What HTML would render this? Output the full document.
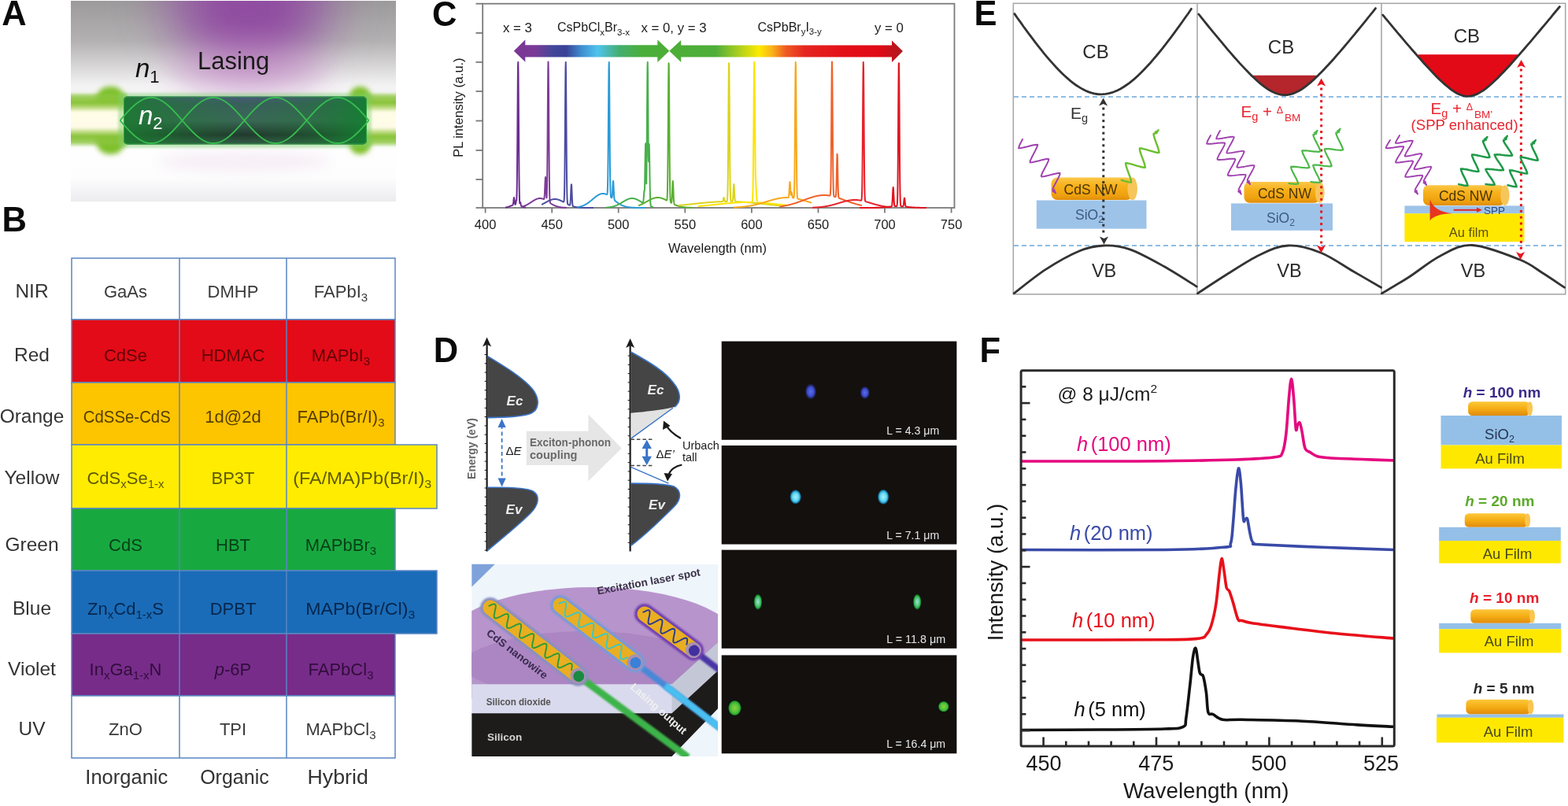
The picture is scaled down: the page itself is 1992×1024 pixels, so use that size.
<!DOCTYPE html><html><head><meta charset="utf-8"><style>html,body{margin:0;padding:0;background:#fff;width:1992px;height:1024px;overflow:hidden}svg{display:block}text{font-family:"Liberation Sans", Arial, sans-serif}</style></head><body>
<svg width="1992" height="1024" viewBox="0 0 1992 1024">
<rect width="1992" height="1024" fill="#fff"/>
<defs>
<clipPath id="clipA"><rect x="90" y="1" width="413" height="255"/></clipPath>
<linearGradient id="aBg" x1="0" y1="0" x2="0" y2="1">
 <stop offset="0" stop-color="#9c9a9b"/><stop offset="0.2" stop-color="#b3b1b2"/><stop offset="0.42" stop-color="#f3f2f3"/><stop offset="0.62" stop-color="#ffffff"/><stop offset="0.88" stop-color="#fdfdfd"/><stop offset="0.95" stop-color="#f3f3f5"/><stop offset="1" stop-color="#ececef"/></linearGradient>
<radialGradient id="aPur" cx="0.5" cy="0" r="0.5" gradientTransform="translate(0,0) scale(1,1)">
 <stop offset="0" stop-color="#8e44a0" stop-opacity="0.95"/><stop offset="0.45" stop-color="#a55cb0" stop-opacity="0.75"/><stop offset="0.8" stop-color="#d9a8d8" stop-opacity="0.3"/><stop offset="1" stop-color="#ffffff" stop-opacity="0"/></radialGradient>
<linearGradient id="aBody" x1="0" y1="0" x2="0" y2="1">
 <stop offset="0" stop-color="#4a5a7e"/><stop offset="0.15" stop-color="#3a5e5c"/><stop offset="0.5" stop-color="#3a6856"/><stop offset="0.8" stop-color="#22392e"/><stop offset="1" stop-color="#35604a"/></linearGradient>
<linearGradient id="aBodyH" x1="0" y1="0" x2="1" y2="0">
 <stop offset="0" stop-color="#1b7a30" stop-opacity="0.9"/><stop offset="0.25" stop-color="#1b7a30" stop-opacity="0.35"/><stop offset="0.5" stop-color="#1b7a30" stop-opacity="0"/><stop offset="0.75" stop-color="#1b7a30" stop-opacity="0.3"/><stop offset="1" stop-color="#128030" stop-opacity="0.9"/></linearGradient>
<linearGradient id="aBeam" x1="0" y1="0" x2="0" y2="1">
 <stop offset="0" stop-color="#8cc63f" stop-opacity="0"/><stop offset="0.07" stop-color="#8cc63f" stop-opacity="0.8"/><stop offset="0.2" stop-color="#86c233"/><stop offset="0.3" stop-color="#c8e090"/><stop offset="0.36" stop-color="#fffde6"/><stop offset="0.64" stop-color="#fffbe8"/><stop offset="0.71" stop-color="#c8e090"/><stop offset="0.8" stop-color="#86c233"/><stop offset="0.92" stop-color="#8cc63f" stop-opacity="0.8"/><stop offset="1" stop-color="#8cc63f" stop-opacity="0"/></linearGradient>
<filter id="blur3" x="-50%" y="-50%" width="200%" height="200%"><feGaussianBlur stdDeviation="3"/></filter>
<filter id="blur2" x="-50%" y="-50%" width="200%" height="200%"><feGaussianBlur stdDeviation="1.6"/></filter>
<filter id="blur30" x="-100%" y="-100%" width="300%" height="300%"><feGaussianBlur stdDeviation="28"/></filter><filter id="blur20" x="-100%" y="-100%" width="300%" height="300%"><feGaussianBlur stdDeviation="18"/></filter>
<filter id="blur4" x="-50%" y="-50%" width="200%" height="200%"><feGaussianBlur stdDeviation="3.5"/></filter>
<filter id="blur8" x="-50%" y="-50%" width="200%" height="200%"><feGaussianBlur stdDeviation="8"/></filter>
</defs>
<g clip-path="url(#clipA)">
<rect x="90" y="1" width="413" height="255" fill="url(#aBg)"/>
<ellipse cx="316" cy="0" rx="118" ry="80" fill="#9a58aa" opacity="0.55" filter="url(#blur30)"/>
<ellipse cx="318" cy="10" rx="75" ry="70" fill="#8e44a0" opacity="0.85" filter="url(#blur30)"/>
<ellipse cx="316" cy="88" rx="100" ry="32" fill="#cc98cc" opacity="0.55" filter="url(#blur20)"/>
<ellipse cx="310" cy="205" rx="110" ry="14" fill="#f2e6f2" opacity="0.6" filter="url(#blur8)"/>
<rect x="122" y="110" width="37" height="86" rx="17" fill="#7ec02a" filter="url(#blur3)"/>
<rect x="444" y="110" width="27" height="86" rx="13" fill="#7ec02a" filter="url(#blur3)"/>
<rect x="86" y="117" width="75" height="70" fill="url(#aBeam)" filter="url(#blur2)"/>
<rect x="462" y="117" width="45" height="70" fill="url(#aBeam)" filter="url(#blur2)"/>
<rect x="150" y="118" width="322" height="70" rx="6" fill="#7dd070" opacity="0.45" filter="url(#blur2)"/>
<rect x="157" y="122.5" width="309" height="61" rx="5" fill="url(#aBody)"/>
<rect x="157" y="122.5" width="309" height="61" rx="5" fill="url(#aBodyH)"/><rect x="157.5" y="123" width="308" height="60" rx="5" fill="none" stroke="#3cb44a" stroke-width="1" opacity="0.7"/>
<polyline points="152.5,153.0 153.3,152.1 154.1,151.2 154.9,150.3 155.7,149.4 156.4,148.5 157.2,147.6 158.0,146.7 158.8,145.8 159.6,144.9 160.4,144.0 161.2,143.2 162.0,142.3 162.8,141.5 163.6,140.7 164.3,139.8 165.1,139.0 165.9,138.2 166.7,137.5 167.5,136.7 168.3,136.0 169.1,135.2 169.9,134.5 170.7,133.8 171.5,133.1 172.2,132.5 173.0,131.9 173.8,131.2 174.6,130.7 175.4,130.1 176.2,129.5 177.0,129.0 177.8,128.5 178.6,128.0 179.4,127.6 180.2,127.2 180.9,126.8 181.7,126.4 182.5,126.0 183.3,125.7 184.1,125.4 184.9,125.2 185.7,124.9 186.5,124.7 187.3,124.5 188.1,124.4 188.8,124.2 189.6,124.1 190.4,124.1 191.2,124.0 192.0,124.0 192.8,124.0 193.6,124.1 194.4,124.1 195.2,124.2 195.9,124.4 196.7,124.5 197.5,124.7 198.3,124.9 199.1,125.2 199.9,125.4 200.7,125.7 201.5,126.0 202.3,126.4 203.1,126.8 203.8,127.2 204.6,127.6 205.4,128.0 206.2,128.5 207.0,129.0 207.8,129.5 208.6,130.1 209.4,130.7 210.2,131.2 211.0,131.9 211.8,132.5 212.5,133.1 213.3,133.8 214.1,134.5 214.9,135.2 215.7,136.0 216.5,136.7 217.3,137.5 218.1,138.2 218.9,139.0 219.7,139.8 220.4,140.7 221.2,141.5 222.0,142.3 222.8,143.2 223.6,144.0 224.4,144.9 225.2,145.8 226.0,146.7 226.8,147.6 227.6,148.5 228.3,149.4 229.1,150.3 229.9,151.2 230.7,152.1 231.5,153.0 232.3,153.9 233.1,154.8 233.9,155.7 234.7,156.6 235.4,157.5 236.2,158.4 237.0,159.3 237.8,160.2 238.6,161.1 239.4,162.0 240.2,162.8 241.0,163.7 241.8,164.5 242.6,165.3 243.4,166.2 244.1,167.0 244.9,167.8 245.7,168.5 246.5,169.3 247.3,170.0 248.1,170.8 248.9,171.5 249.7,172.2 250.5,172.9 251.2,173.5 252.0,174.1 252.8,174.8 253.6,175.3 254.4,175.9 255.2,176.5 256.0,177.0 256.8,177.5 257.6,178.0 258.4,178.4 259.1,178.8 259.9,179.2 260.7,179.6 261.5,180.0 262.3,180.3 263.1,180.6 263.9,180.8 264.7,181.1 265.5,181.3 266.3,181.5 267.1,181.6 267.8,181.8 268.6,181.9 269.4,181.9 270.2,182.0 271.0,182.0 271.8,182.0 272.6,181.9 273.4,181.9 274.2,181.8 274.9,181.6 275.7,181.5 276.5,181.3 277.3,181.1 278.1,180.8 278.9,180.6 279.7,180.3 280.5,180.0 281.3,179.6 282.1,179.2 282.9,178.8 283.6,178.4 284.4,178.0 285.2,177.5 286.0,177.0 286.8,176.5 287.6,175.9 288.4,175.3 289.2,174.8 290.0,174.1 290.8,173.5 291.5,172.9 292.3,172.2 293.1,171.5 293.9,170.8 294.7,170.0 295.5,169.3 296.3,168.5 297.1,167.8 297.9,167.0 298.6,166.2 299.4,165.3 300.2,164.5 301.0,163.7 301.8,162.8 302.6,162.0 303.4,161.1 304.2,160.2 305.0,159.3 305.8,158.4 306.6,157.5 307.3,156.6 308.1,155.7 308.9,154.8 309.7,153.9 310.5,153.0 311.3,152.1 312.1,151.2 312.9,150.3 313.7,149.4 314.5,148.5 315.2,147.6 316.0,146.7 316.8,145.8 317.6,144.9 318.4,144.0 319.2,143.2 320.0,142.3 320.8,141.5 321.6,140.7 322.4,139.8 323.1,139.0 323.9,138.2 324.7,137.5 325.5,136.7 326.3,136.0 327.1,135.2 327.9,134.5 328.7,133.8 329.5,133.1 330.2,132.5 331.0,131.9 331.8,131.2 332.6,130.7 333.4,130.1 334.2,129.5 335.0,129.0 335.8,128.5 336.6,128.0 337.4,127.6 338.1,127.2 338.9,126.8 339.7,126.4 340.5,126.0 341.3,125.7 342.1,125.4 342.9,125.2 343.7,124.9 344.5,124.7 345.3,124.5 346.1,124.4 346.8,124.2 347.6,124.1 348.4,124.1 349.2,124.0 350.0,124.0 350.8,124.0 351.6,124.1 352.4,124.1 353.2,124.2 354.0,124.4 354.7,124.5 355.5,124.7 356.3,124.9 357.1,125.2 357.9,125.4 358.7,125.7 359.5,126.0 360.3,126.4 361.1,126.8 361.9,127.2 362.6,127.6 363.4,128.0 364.2,128.5 365.0,129.0 365.8,129.5 366.6,130.1 367.4,130.7 368.2,131.2 369.0,131.9 369.8,132.5 370.5,133.1 371.3,133.8 372.1,134.5 372.9,135.2 373.7,136.0 374.5,136.7 375.3,137.5 376.1,138.2 376.9,139.0 377.6,139.8 378.4,140.7 379.2,141.5 380.0,142.3 380.8,143.2 381.6,144.0 382.4,144.9 383.2,145.8 384.0,146.7 384.8,147.6 385.6,148.5 386.3,149.4 387.1,150.3 387.9,151.2 388.7,152.1 389.5,153.0 390.3,153.9 391.1,154.8 391.9,155.7 392.7,156.6 393.5,157.5 394.2,158.4 395.0,159.3 395.8,160.2 396.6,161.1 397.4,162.0 398.2,162.8 399.0,163.7 399.8,164.5 400.6,165.3 401.4,166.2 402.1,167.0 402.9,167.8 403.7,168.5 404.5,169.3 405.3,170.0 406.1,170.8 406.9,171.5 407.7,172.2 408.5,172.9 409.2,173.5 410.0,174.1 410.8,174.8 411.6,175.3 412.4,175.9 413.2,176.5 414.0,177.0 414.8,177.5 415.6,178.0 416.4,178.4 417.2,178.8 417.9,179.2 418.7,179.6 419.5,180.0 420.3,180.3 421.1,180.6 421.9,180.8 422.7,181.1 423.5,181.3 424.3,181.5 425.1,181.6 425.8,181.8 426.6,181.9 427.4,181.9 428.2,182.0 429.0,182.0 429.8,182.0 430.6,181.9 431.4,181.9 432.2,181.8 432.9,181.6 433.7,181.5 434.5,181.3 435.3,181.1 436.1,180.8 436.9,180.6 437.7,180.3 438.5,180.0 439.3,179.6 440.1,179.2 440.9,178.8 441.6,178.4 442.4,178.0 443.2,177.5 444.0,177.0 444.8,176.5 445.6,175.9 446.4,175.3 447.2,174.8 448.0,174.1 448.8,173.5 449.5,172.9 450.3,172.2 451.1,171.5 451.9,170.8 452.7,170.0 453.5,169.3 454.3,168.5 455.1,167.8 455.9,167.0 456.7,166.2 457.4,165.3 458.2,164.5 459.0,163.7 459.8,162.8 460.6,162.0 461.4,161.1 462.2,160.2 463.0,159.3 463.8,158.4 464.6,157.5 465.3,156.6 466.1,155.7 466.9,154.8 467.7,153.9 468.5,153.0" fill="none" stroke="#36bd4e" stroke-width="1.8"/><polyline points="152.5,153.0 153.3,153.9 154.1,154.8 154.9,155.7 155.7,156.6 156.4,157.5 157.2,158.4 158.0,159.3 158.8,160.2 159.6,161.1 160.4,162.0 161.2,162.8 162.0,163.7 162.8,164.5 163.6,165.3 164.3,166.2 165.1,167.0 165.9,167.8 166.7,168.5 167.5,169.3 168.3,170.0 169.1,170.8 169.9,171.5 170.7,172.2 171.5,172.9 172.2,173.5 173.0,174.1 173.8,174.8 174.6,175.3 175.4,175.9 176.2,176.5 177.0,177.0 177.8,177.5 178.6,178.0 179.4,178.4 180.2,178.8 180.9,179.2 181.7,179.6 182.5,180.0 183.3,180.3 184.1,180.6 184.9,180.8 185.7,181.1 186.5,181.3 187.3,181.5 188.1,181.6 188.8,181.8 189.6,181.9 190.4,181.9 191.2,182.0 192.0,182.0 192.8,182.0 193.6,181.9 194.4,181.9 195.2,181.8 195.9,181.6 196.7,181.5 197.5,181.3 198.3,181.1 199.1,180.8 199.9,180.6 200.7,180.3 201.5,180.0 202.3,179.6 203.1,179.2 203.8,178.8 204.6,178.4 205.4,178.0 206.2,177.5 207.0,177.0 207.8,176.5 208.6,175.9 209.4,175.3 210.2,174.8 211.0,174.1 211.8,173.5 212.5,172.9 213.3,172.2 214.1,171.5 214.9,170.8 215.7,170.0 216.5,169.3 217.3,168.5 218.1,167.8 218.9,167.0 219.7,166.2 220.4,165.3 221.2,164.5 222.0,163.7 222.8,162.8 223.6,162.0 224.4,161.1 225.2,160.2 226.0,159.3 226.8,158.4 227.6,157.5 228.3,156.6 229.1,155.7 229.9,154.8 230.7,153.9 231.5,153.0 232.3,152.1 233.1,151.2 233.9,150.3 234.7,149.4 235.4,148.5 236.2,147.6 237.0,146.7 237.8,145.8 238.6,144.9 239.4,144.0 240.2,143.2 241.0,142.3 241.8,141.5 242.6,140.7 243.4,139.8 244.1,139.0 244.9,138.2 245.7,137.5 246.5,136.7 247.3,136.0 248.1,135.2 248.9,134.5 249.7,133.8 250.5,133.1 251.2,132.5 252.0,131.9 252.8,131.2 253.6,130.7 254.4,130.1 255.2,129.5 256.0,129.0 256.8,128.5 257.6,128.0 258.4,127.6 259.1,127.2 259.9,126.8 260.7,126.4 261.5,126.0 262.3,125.7 263.1,125.4 263.9,125.2 264.7,124.9 265.5,124.7 266.3,124.5 267.1,124.4 267.8,124.2 268.6,124.1 269.4,124.1 270.2,124.0 271.0,124.0 271.8,124.0 272.6,124.1 273.4,124.1 274.2,124.2 274.9,124.4 275.7,124.5 276.5,124.7 277.3,124.9 278.1,125.2 278.9,125.4 279.7,125.7 280.5,126.0 281.3,126.4 282.1,126.8 282.9,127.2 283.6,127.6 284.4,128.0 285.2,128.5 286.0,129.0 286.8,129.5 287.6,130.1 288.4,130.7 289.2,131.2 290.0,131.9 290.8,132.5 291.5,133.1 292.3,133.8 293.1,134.5 293.9,135.2 294.7,136.0 295.5,136.7 296.3,137.5 297.1,138.2 297.9,139.0 298.6,139.8 299.4,140.7 300.2,141.5 301.0,142.3 301.8,143.2 302.6,144.0 303.4,144.9 304.2,145.8 305.0,146.7 305.8,147.6 306.6,148.5 307.3,149.4 308.1,150.3 308.9,151.2 309.7,152.1 310.5,153.0 311.3,153.9 312.1,154.8 312.9,155.7 313.7,156.6 314.5,157.5 315.2,158.4 316.0,159.3 316.8,160.2 317.6,161.1 318.4,162.0 319.2,162.8 320.0,163.7 320.8,164.5 321.6,165.3 322.4,166.2 323.1,167.0 323.9,167.8 324.7,168.5 325.5,169.3 326.3,170.0 327.1,170.8 327.9,171.5 328.7,172.2 329.5,172.9 330.2,173.5 331.0,174.1 331.8,174.8 332.6,175.3 333.4,175.9 334.2,176.5 335.0,177.0 335.8,177.5 336.6,178.0 337.4,178.4 338.1,178.8 338.9,179.2 339.7,179.6 340.5,180.0 341.3,180.3 342.1,180.6 342.9,180.8 343.7,181.1 344.5,181.3 345.3,181.5 346.1,181.6 346.8,181.8 347.6,181.9 348.4,181.9 349.2,182.0 350.0,182.0 350.8,182.0 351.6,181.9 352.4,181.9 353.2,181.8 354.0,181.6 354.7,181.5 355.5,181.3 356.3,181.1 357.1,180.8 357.9,180.6 358.7,180.3 359.5,180.0 360.3,179.6 361.1,179.2 361.9,178.8 362.6,178.4 363.4,178.0 364.2,177.5 365.0,177.0 365.8,176.5 366.6,175.9 367.4,175.3 368.2,174.8 369.0,174.1 369.8,173.5 370.5,172.9 371.3,172.2 372.1,171.5 372.9,170.8 373.7,170.0 374.5,169.3 375.3,168.5 376.1,167.8 376.9,167.0 377.6,166.2 378.4,165.3 379.2,164.5 380.0,163.7 380.8,162.8 381.6,162.0 382.4,161.1 383.2,160.2 384.0,159.3 384.8,158.4 385.6,157.5 386.3,156.6 387.1,155.7 387.9,154.8 388.7,153.9 389.5,153.0 390.3,152.1 391.1,151.2 391.9,150.3 392.7,149.4 393.5,148.5 394.2,147.6 395.0,146.7 395.8,145.8 396.6,144.9 397.4,144.0 398.2,143.2 399.0,142.3 399.8,141.5 400.6,140.7 401.4,139.8 402.1,139.0 402.9,138.2 403.7,137.5 404.5,136.7 405.3,136.0 406.1,135.2 406.9,134.5 407.7,133.8 408.5,133.1 409.2,132.5 410.0,131.9 410.8,131.2 411.6,130.7 412.4,130.1 413.2,129.5 414.0,129.0 414.8,128.5 415.6,128.0 416.4,127.6 417.2,127.2 417.9,126.8 418.7,126.4 419.5,126.0 420.3,125.7 421.1,125.4 421.9,125.2 422.7,124.9 423.5,124.7 424.3,124.5 425.1,124.4 425.8,124.2 426.6,124.1 427.4,124.1 428.2,124.0 429.0,124.0 429.8,124.0 430.6,124.1 431.4,124.1 432.2,124.2 432.9,124.4 433.7,124.5 434.5,124.7 435.3,124.9 436.1,125.2 436.9,125.4 437.7,125.7 438.5,126.0 439.3,126.4 440.1,126.8 440.9,127.2 441.6,127.6 442.4,128.0 443.2,128.5 444.0,129.0 444.8,129.5 445.6,130.1 446.4,130.7 447.2,131.2 448.0,131.9 448.8,132.5 449.5,133.1 450.3,133.8 451.1,134.5 451.9,135.2 452.7,136.0 453.5,136.7 454.3,137.5 455.1,138.2 455.9,139.0 456.7,139.8 457.4,140.7 458.2,141.5 459.0,142.3 459.8,143.2 460.6,144.0 461.4,144.9 462.2,145.8 463.0,146.7 463.8,147.6 464.6,148.5 465.3,149.4 466.1,150.3 466.9,151.2 467.7,152.1 468.5,153.0" fill="none" stroke="#36bd4e" stroke-width="1.8"/></g><text x="251" y="88" font-size="31" fill="#1a1a1a">Lasing</text><text x="172" y="98" font-size="33" fill="#111" font-style="italic">n<tspan font-size="22" dy="7" font-style="normal">1</tspan></text><text x="176" y="158" font-size="33" fill="#fff" font-style="italic">n<tspan font-size="22" dy="6" font-style="normal">2</tspan></text>
<rect x="91" y="328" width="411" height="78" fill="#ffffff" stroke="#5a86c2" stroke-width="1.5"/><line x1="228" y1="328" x2="228" y2="406" stroke="#5a86c2" stroke-width="1.5"/><line x1="364" y1="328" x2="364" y2="406" stroke="#5a86c2" stroke-width="1.5"/><text x="40.5" y="378" font-size="24.5" fill="#333" text-anchor="middle" font-weight="normal" font-style="normal" >NIR</text><text x="159.5" y="378" font-size="22" fill="#3a3a3a" text-anchor="middle">GaAs</text><text x="296.0" y="378" font-size="22" fill="#3a3a3a" text-anchor="middle">DMHP</text><text x="433.0" y="378" font-size="22" fill="#3a3a3a" text-anchor="middle">FAPbI<tspan font-size="15" dy="5">3</tspan></text><rect x="91" y="406" width="411" height="80" fill="#e30b17" stroke="#5a86c2" stroke-width="1.5"/><line x1="228" y1="406" x2="228" y2="486" stroke="#5a86c2" stroke-width="1.5"/><line x1="364" y1="406" x2="364" y2="486" stroke="#5a86c2" stroke-width="1.5"/><text x="40.5" y="459" font-size="24.5" fill="#333" text-anchor="middle" font-weight="normal" font-style="normal" >Red</text><text x="159.5" y="459" font-size="22" fill="rgba(40,0,0,0.7)" text-anchor="middle">CdSe</text><text x="296.0" y="459" font-size="22" fill="rgba(40,0,0,0.7)" text-anchor="middle">HDMAC</text><text x="433.0" y="459" font-size="22" fill="rgba(40,0,0,0.7)" text-anchor="middle">MAPbI<tspan font-size="15" dy="5">3</tspan></text><rect x="91" y="486" width="411" height="79" fill="#fdc400" stroke="#5a86c2" stroke-width="1.5"/><line x1="228" y1="486" x2="228" y2="565" stroke="#5a86c2" stroke-width="1.5"/><line x1="364" y1="486" x2="364" y2="565" stroke="#5a86c2" stroke-width="1.5"/><text x="40.5" y="536.5" font-size="24.5" fill="#333" text-anchor="middle" font-weight="normal" font-style="normal" >Orange</text><text x="105.8" y="536.5" font-size="22" fill="rgba(40,25,0,0.8)" textLength="111" lengthAdjust="spacingAndGlyphs">CdSSe-CdS</text><text x="296.0" y="536.5" font-size="22" fill="rgba(40,25,0,0.8)" text-anchor="middle">1d@2d</text><text x="433.0" y="536.5" font-size="22" fill="rgba(40,25,0,0.8)" text-anchor="middle">FAPb(Br/I)<tspan font-size="15" dy="5">3</tspan></text><rect x="91" y="565" width="464" height="81" fill="#ffec00" stroke="#5a86c2" stroke-width="1.5"/><line x1="228" y1="565" x2="228" y2="646" stroke="#5a86c2" stroke-width="1.5"/><line x1="364" y1="565" x2="364" y2="646" stroke="#5a86c2" stroke-width="1.5"/><text x="40.5" y="615" font-size="24.5" fill="#333" text-anchor="middle" font-weight="normal" font-style="normal" >Yellow</text><text x="159.5" y="615" font-size="22" fill="rgba(40,40,0,0.75)" text-anchor="middle">CdS<tspan font-size="15" dy="5">x</tspan><tspan dy="-5">Se</tspan><tspan font-size="15" dy="5">1-x</tspan></text><text x="296.0" y="615" font-size="22" fill="rgba(40,40,0,0.75)" text-anchor="middle">BP3T</text><text x="372.2" y="615" font-size="22" fill="rgba(40,40,0,0.75)" textLength="176" lengthAdjust="spacingAndGlyphs">(FA/MA)Pb(Br/I)<tspan font-size="15" dy="5">3</tspan></text><rect x="91" y="646" width="411" height="79" fill="#18a840" stroke="#5a86c2" stroke-width="1.5"/><line x1="228" y1="646" x2="228" y2="725" stroke="#5a86c2" stroke-width="1.5"/><line x1="364" y1="646" x2="364" y2="725" stroke="#5a86c2" stroke-width="1.5"/><text x="40.5" y="699.5" font-size="24.5" fill="#333" text-anchor="middle" font-weight="normal" font-style="normal" >Green</text><text x="159.5" y="699.5" font-size="22" fill="rgba(0,30,10,0.75)" text-anchor="middle">CdS</text><text x="296.0" y="699.5" font-size="22" fill="rgba(0,30,10,0.75)" text-anchor="middle">HBT</text><text x="433.0" y="699.5" font-size="22" fill="rgba(0,30,10,0.75)" text-anchor="middle">MAPbBr<tspan font-size="15" dy="5">3</tspan></text><rect x="91" y="725" width="464" height="80" fill="#1a6cb8" stroke="#5a86c2" stroke-width="1.5"/><line x1="228" y1="725" x2="228" y2="805" stroke="#5a86c2" stroke-width="1.5"/><line x1="364" y1="725" x2="364" y2="805" stroke="#5a86c2" stroke-width="1.5"/><text x="40.5" y="780.5" font-size="24.5" fill="#333" text-anchor="middle" font-weight="normal" font-style="normal" >Blue</text><text x="159.5" y="780.5" font-size="22" fill="rgba(0,15,40,0.75)" text-anchor="middle">Zn<tspan font-size="15" dy="5">x</tspan><tspan dy="-5">Cd</tspan><tspan font-size="15" dy="5">1-x</tspan><tspan dy="-5">S</tspan></text><text x="296.0" y="780.5" font-size="22" fill="rgba(0,15,40,0.75)" text-anchor="middle">DPBT</text><text x="388.3" y="780.5" font-size="22" fill="rgba(0,15,40,0.75)" textLength="139" lengthAdjust="spacingAndGlyphs">MAPb(Br/Cl)<tspan font-size="15" dy="5">3</tspan></text><rect x="91" y="805" width="411" height="79" fill="#772c8a" stroke="#5a86c2" stroke-width="1.5"/><line x1="228" y1="805" x2="228" y2="884" stroke="#5a86c2" stroke-width="1.5"/><line x1="364" y1="805" x2="364" y2="884" stroke="#5a86c2" stroke-width="1.5"/><text x="40.5" y="858.3" font-size="24.5" fill="#333" text-anchor="middle" font-weight="normal" font-style="normal" >Violet</text><text x="159.5" y="858.3" font-size="22" fill="rgba(20,0,25,0.7)" text-anchor="middle">In<tspan font-size="15" dy="5">x</tspan><tspan dy="-5">Ga</tspan><tspan font-size="15" dy="5">1-x</tspan><tspan dy="-5">N</tspan></text><text x="296.0" y="858.3" font-size="22" fill="rgba(20,0,25,0.7)" text-anchor="middle"><tspan font-style="italic">p</tspan>-6P</text><text x="433.0" y="858.3" font-size="22" fill="rgba(20,0,25,0.7)" text-anchor="middle">FAPbCl<tspan font-size="15" dy="5">3</tspan></text><rect x="91" y="884" width="411" height="79" fill="#ffffff" stroke="#5a86c2" stroke-width="1.5"/><line x1="228" y1="884" x2="228" y2="963" stroke="#5a86c2" stroke-width="1.5"/><line x1="364" y1="884" x2="364" y2="963" stroke="#5a86c2" stroke-width="1.5"/><text x="40.5" y="933.5" font-size="24.5" fill="#333" text-anchor="middle" font-weight="normal" font-style="normal" >UV</text><text x="159.5" y="933.5" font-size="22" fill="#3a3a3a" text-anchor="middle">ZnO</text><text x="296.0" y="933.5" font-size="22" fill="#3a3a3a" text-anchor="middle">TPI</text><text x="433.0" y="933.5" font-size="22" fill="#3a3a3a" text-anchor="middle">MAPbCl<tspan font-size="15" dy="5">3</tspan></text><text x="108.3" y="996" font-size="25" fill="#333" textLength="105" lengthAdjust="spacingAndGlyphs">Inorganic</text><text x="254.2" y="996" font-size="25" fill="#333" textLength="87.5" lengthAdjust="spacingAndGlyphs">Organic</text><text x="390.4" y="996" font-size="25" fill="#333" textLength="77.5" lengthAdjust="spacingAndGlyphs">Hybrid</text>
<rect x="613.2" y="4.7" width="599.3" height="259.3" fill="none" stroke="#7a7a7a" stroke-width="1.8"/><line x1="604.5" y1="4.7" x2="613.2" y2="4.7" stroke="#7a7a7a" stroke-width="1.8"/><line x1="604.5" y1="41.9" x2="613.2" y2="41.9" stroke="#7a7a7a" stroke-width="1.8"/><line x1="604.5" y1="79" x2="613.2" y2="79" stroke="#7a7a7a" stroke-width="1.8"/><line x1="604.5" y1="116" x2="613.2" y2="116" stroke="#7a7a7a" stroke-width="1.8"/><line x1="604.5" y1="153.5" x2="613.2" y2="153.5" stroke="#7a7a7a" stroke-width="1.8"/><line x1="604.5" y1="191" x2="613.2" y2="191" stroke="#7a7a7a" stroke-width="1.8"/><line x1="604.5" y1="228" x2="613.2" y2="228" stroke="#7a7a7a" stroke-width="1.8"/><line x1="604.5" y1="264" x2="613.2" y2="264" stroke="#7a7a7a" stroke-width="1.8"/><line x1="616.6" y1="264" x2="616.6" y2="270.5" stroke="#7a7a7a" stroke-width="1.8"/><text x="616.6" y="291.3" font-size="16.5" fill="#1a1a1a" text-anchor="middle">400</text><line x1="701.2" y1="264" x2="701.2" y2="270.5" stroke="#7a7a7a" stroke-width="1.8"/><text x="701.2" y="291.3" font-size="16.5" fill="#1a1a1a" text-anchor="middle">450</text><line x1="785.7" y1="264" x2="785.7" y2="270.5" stroke="#7a7a7a" stroke-width="1.8"/><text x="785.7" y="291.3" font-size="16.5" fill="#1a1a1a" text-anchor="middle">500</text><line x1="870.3" y1="264" x2="870.3" y2="270.5" stroke="#7a7a7a" stroke-width="1.8"/><text x="870.3" y="291.3" font-size="16.5" fill="#1a1a1a" text-anchor="middle">550</text><line x1="954.9" y1="264" x2="954.9" y2="270.5" stroke="#7a7a7a" stroke-width="1.8"/><text x="954.9" y="291.3" font-size="16.5" fill="#1a1a1a" text-anchor="middle">600</text><line x1="1039.5" y1="264" x2="1039.5" y2="270.5" stroke="#7a7a7a" stroke-width="1.8"/><text x="1039.5" y="291.3" font-size="16.5" fill="#1a1a1a" text-anchor="middle">650</text><line x1="1124.0" y1="264" x2="1124.0" y2="270.5" stroke="#7a7a7a" stroke-width="1.8"/><text x="1124.0" y="291.3" font-size="16.5" fill="#1a1a1a" text-anchor="middle">700</text><line x1="1208.6" y1="264" x2="1208.6" y2="270.5" stroke="#7a7a7a" stroke-width="1.8"/><text x="1208.6" y="291.3" font-size="16.5" fill="#1a1a1a" text-anchor="middle">750</text><text x="911.5" y="320.5" font-size="16.5" fill="#1a1a1a" text-anchor="middle">Wavelength (nm)</text><text transform="translate(587.5,136.6) rotate(-90)" x="0" y="0" font-size="16.3" fill="#1a1a1a" text-anchor="middle">PL intensity (a.u.)</text><defs>
<linearGradient id="cArrL" gradientUnits="userSpaceOnUse" x1="652" y1="0" x2="850" y2="0">
<stop offset="0" stop-color="#7b3695"/><stop offset="0.14" stop-color="#7a3a96"/><stop offset="0.26" stop-color="#40479a"/><stop offset="0.34" stop-color="#3a4296"/><stop offset="0.44" stop-color="#3f8fd0"/><stop offset="0.54" stop-color="#4fc3ee"/><stop offset="0.68" stop-color="#44ae70"/><stop offset="0.82" stop-color="#4aae3c"/><stop offset="1" stop-color="#4cae36"/></linearGradient>
<linearGradient id="cArrR" gradientUnits="userSpaceOnUse" x1="850" y1="0" x2="1147" y2="0">
<stop offset="0" stop-color="#4cae36"/><stop offset="0.2" stop-color="#4fae3a"/><stop offset="0.31" stop-color="#b7d21a"/><stop offset="0.385" stop-color="#fdea00"/><stop offset="0.44" stop-color="#f9b21a"/><stop offset="0.5" stop-color="#ef5a22"/><stop offset="0.58" stop-color="#e52620"/><stop offset="0.75" stop-color="#e30f17"/><stop offset="0.9" stop-color="#e00a17"/><stop offset="1" stop-color="#a81c1f"/></linearGradient>
</defs><path d="M652.8,64.7 L667.3,50.5 L667.3,57.2 L835.3,57.2 L835.3,50.5 L850.3,64.8 L835.3,79 L835.3,72.6 L667.3,72.6 L667.3,78.8 Z" fill="url(#cArrL)"/><path d="M850.3,64.8 L865.2,51 L865.2,57.4 L1133,57.4 L1133,51.6 L1147,64.9 L1133,79 L1133,72.6 L865.2,72.6 L865.2,79 Z" fill="url(#cArrR)"/><text x="639" y="40.5" font-size="16.8" fill="#1a1a1a">x = 3</text><text x="708" y="40" font-size="16" fill="#1a1a1a">CsPbCl<tspan font-size="11.5" dy="4.6">x</tspan><tspan dy="-4.6">Br</tspan><tspan font-size="11.5" dy="4.6">3-x</tspan></text><text x="814.5" y="40.5" font-size="16.8" fill="#1a1a1a">x = 0, y = 3</text><text x="962.5" y="39.5" font-size="16" fill="#1a1a1a">CsPbBr<tspan font-size="11.5" dy="4.6">y</tspan><tspan dy="-4.6">I</tspan><tspan font-size="11.5" dy="4.6">3-y</tspan></text><text x="1111" y="40.5" font-size="16.8" fill="#1a1a1a">y = 0</text><polyline points="642.00,263.62 642.25,263.58 642.50,263.54 642.75,263.50 643.00,263.46 643.25,263.41 643.50,263.36 643.75,263.31 644.00,263.25 644.25,263.20 644.50,263.13 644.75,263.07 645.00,263.00 645.25,262.93 645.50,262.86 645.75,262.78 646.00,262.70 646.25,262.62 646.50,262.53 646.75,262.45 647.00,262.36 647.25,262.26 647.50,262.17 647.75,262.07 648.00,261.97 648.25,261.88 648.50,261.78 648.75,261.67 649.00,261.57 649.25,261.47 649.50,261.37 649.75,261.27 650.00,261.17 650.25,261.08 650.50,260.98 650.75,260.88 651.00,260.78 651.25,260.64 651.50,260.37 651.75,259.78 652.00,258.60 652.25,256.64 652.50,254.15 652.75,251.93 653.00,251.00 653.25,251.82 653.50,253.94 653.75,256.33 654.00,258.18 654.25,259.27 654.50,259.76 654.75,259.80 655.00,259.31 655.25,258.22 655.50,256.49 655.75,254.74 656.00,254.00 656.25,254.80 656.50,248.91 656.75,236.21 657.00,214.83 657.25,184.05 657.50,146.86 657.75,110.66 658.00,85.33 658.25,78.95 658.50,93.73 658.75,124.74 659.00,162.61 659.25,198.03 659.50,225.32 659.75,243.14 660.00,253.18 660.25,258.11 660.50,258.30 660.75,257.33 661.00,257.00 661.25,257.53 661.50,258.71 661.75,260.01 662.00,261.05 662.25,261.69 662.50,262.04 662.75,262.23 663.00,262.35 663.25,262.44 663.50,262.53 663.75,262.62 664.00,262.70 664.25,262.78 664.50,262.86 664.75,262.93 665.00,263.00 665.25,263.07 665.50,263.13 665.75,263.20 666.00,263.25 666.25,263.31 666.50,263.36 666.75,263.41 667.00,263.46 667.25,263.50 667.50,263.54 667.75,263.58 668.00,263.62" fill="none" stroke="#6b2d90" stroke-width="2" stroke-linejoin="round"/><polyline points="662.00,262.89 662.25,262.83 662.50,262.78 662.75,262.71 663.00,262.65 663.25,262.59 663.50,262.52 663.75,262.45 664.00,262.38 664.25,262.30 664.50,262.22 664.75,262.14 665.00,262.06 665.25,261.97 665.50,261.89 665.75,261.80 666.00,261.70 666.25,261.61 666.50,261.51 666.75,261.40 667.00,261.30 667.25,261.19 667.50,261.08 667.75,260.97 668.00,260.85 668.25,260.74 668.50,260.61 668.75,260.49 669.00,260.36 669.25,260.24 669.50,260.10 669.75,259.97 670.00,259.83 670.25,259.69 670.50,259.55 670.75,259.41 671.00,259.26 671.25,259.12 671.50,258.97 671.75,258.81 672.00,258.66 672.25,258.51 672.50,258.35 672.75,258.19 673.00,258.03 673.25,257.87 673.50,257.71 673.75,257.55 674.00,257.38 674.25,257.22 674.50,257.05 674.75,256.89 675.00,256.72 675.25,256.56 675.50,256.39 675.75,256.23 676.00,256.06 676.25,255.90 676.50,255.74 676.75,255.57 677.00,255.41 677.25,255.25 677.50,255.10 677.75,254.94 678.00,254.79 678.25,254.64 678.50,254.49 678.75,254.34 679.00,254.20 679.25,254.06 679.50,253.92 679.75,253.79 680.00,253.66 680.25,253.53 680.50,253.41 680.75,253.29 681.00,253.18 681.25,253.07 681.50,252.96 681.75,252.86 682.00,252.77 682.25,252.68 682.50,252.59 682.75,252.51 683.00,252.44 683.25,252.37 683.50,252.31 683.75,252.25 684.00,252.20 684.25,252.15 684.50,252.11 684.75,252.08 685.00,252.05 685.25,252.03 685.50,252.01 685.75,252.00 686.00,252.00 686.25,252.00 686.50,252.01 686.75,252.03 687.00,252.05 687.25,252.08 687.50,252.11 687.75,252.15 688.00,252.20 688.25,252.25 688.50,252.31 688.75,252.37 689.00,252.44 689.25,252.51 689.50,252.59 689.75,252.68 690.00,252.77 690.25,252.86 690.50,252.95 690.75,253.01 691.00,252.96 691.25,252.60 691.50,251.54 691.75,249.20 692.00,245.04 692.25,239.09 692.50,232.40 692.75,227.00 693.00,225.00 693.25,227.29 693.50,232.97 693.75,239.94 694.00,246.17 694.25,250.61 694.50,251.34 694.75,245.98 695.00,235.11 695.25,216.16 695.50,187.93 695.75,152.49 696.00,116.29 696.25,88.74 696.50,78.50 696.75,89.07 697.00,116.95 697.25,153.48 697.50,189.25 697.75,217.80 698.00,237.07 698.25,248.27 698.50,253.95 698.75,256.52 699.00,257.60 699.25,258.07 699.50,258.32 699.75,258.50 700.00,258.66 700.25,258.81 700.50,258.97 700.75,259.12 701.00,259.26 701.25,259.41 701.50,259.55 701.75,259.69 702.00,259.83 702.25,259.97 702.50,260.10 702.75,260.24 703.00,260.36 703.25,260.49 703.50,260.61 703.75,260.74 704.00,260.85 704.25,260.97 704.50,261.08 704.75,261.19 705.00,261.30 705.25,261.40 705.50,261.51 705.75,261.61 706.00,261.70 706.25,261.80 706.50,261.89 706.75,261.97 707.00,262.06 707.25,262.14 707.50,262.22 707.75,262.30 708.00,262.38 708.25,262.45 708.50,262.52 708.75,262.59 709.00,262.65 709.25,262.71 709.50,262.78 709.75,262.83 710.00,262.89 710.25,262.94 710.50,263.00 710.75,263.05 711.00,263.09 711.25,263.14 711.50,263.18 711.75,263.23 712.00,263.27 712.25,263.30 712.50,263.34 712.75,263.38 713.00,263.41 713.25,263.44 713.50,263.47 713.75,263.50 714.00,263.53 714.25,263.56 714.50,263.58 714.75,263.61 715.00,263.63 715.25,263.65 715.50,263.67 715.75,263.69 716.00,263.71 716.25,263.73 716.50,263.74 716.75,263.76 717.00,263.77 717.25,263.79 717.50,263.80 717.75,263.81 718.00,263.83 718.25,263.84 718.50,263.85 718.75,263.86 719.00,263.87 719.25,263.88 719.50,263.88 719.75,263.89 720.00,263.90" fill="none" stroke="#7d3c98" stroke-width="2" stroke-linejoin="round"/><polyline points="688.00,259.97 688.25,259.85 688.50,259.73 688.75,259.60 689.00,259.48 689.25,259.35 689.50,259.22 689.75,259.09 690.00,258.96 690.25,258.83 690.50,258.70 690.75,258.57 691.00,258.43 691.25,258.29 691.50,258.16 691.75,258.02 692.00,257.88 692.25,257.74 692.50,257.61 692.75,257.47 693.00,257.33 693.25,257.19 693.50,257.05 693.75,256.91 694.00,256.77 694.25,256.64 694.50,256.50 694.75,256.36 695.00,256.23 695.25,256.09 695.50,255.96 695.75,255.83 696.00,255.70 696.25,255.57 696.50,255.44 696.75,255.32 697.00,255.19 697.25,255.07 697.50,254.95 697.75,254.84 698.00,254.72 698.25,254.61 698.50,254.50 698.75,254.40 699.00,254.29 699.25,254.19 699.50,254.10 699.75,254.00 700.00,253.91 700.25,253.83 700.50,253.75 700.75,253.67 701.00,253.59 701.25,253.52 701.50,253.46 701.75,253.40 702.00,253.34 702.25,253.29 702.50,253.24 702.75,253.19 703.00,253.15 703.25,253.12 703.50,253.09 703.75,253.06 704.00,253.04 704.25,253.02 704.50,253.01 704.75,253.00 705.00,253.00 705.25,253.00 705.50,253.01 705.75,253.02 706.00,253.04 706.25,253.06 706.50,253.09 706.75,253.12 707.00,253.15 707.25,253.19 707.50,253.24 707.75,253.29 708.00,253.34 708.25,253.40 708.50,253.46 708.75,253.52 709.00,253.59 709.25,253.67 709.50,253.75 709.75,253.83 710.00,253.91 710.25,254.00 710.50,254.10 710.75,254.19 711.00,254.29 711.25,254.40 711.50,254.50 711.75,254.61 712.00,254.72 712.25,254.84 712.50,254.95 712.75,255.07 713.00,255.19 713.25,255.32 713.50,255.44 713.75,255.57 714.00,255.70 714.25,255.83 714.50,255.96 714.75,256.09 715.00,256.23 715.25,256.36 715.50,256.49 715.75,256.60 716.00,256.61 716.25,256.36 716.50,255.36 716.75,252.60 717.00,246.26 717.25,233.81 717.50,212.78 717.75,182.47 718.00,145.82 718.25,110.15 718.50,85.19 718.75,78.96 719.00,93.61 719.25,124.29 719.50,161.73 719.75,196.76 720.00,223.74 720.25,241.38 720.50,251.33 720.75,256.23 721.00,258.38 721.25,259.26 721.50,259.63 721.75,259.82 722.00,259.96 722.25,260.08 722.50,260.20 722.75,260.32 723.00,260.43 723.25,260.53 723.50,260.62 723.75,260.66 724.00,260.52 724.25,259.97 724.50,258.54 724.75,255.67 725.00,250.99 725.25,244.88 725.50,238.75 725.75,234.69 726.00,234.37 726.25,237.95 726.50,244.01 726.75,250.45 727.00,255.65 727.25,259.05 727.50,260.89 727.75,261.75 728.00,262.12 728.25,262.28 728.50,262.38 728.75,262.45 729.00,262.51 729.25,262.57 729.50,262.63 729.75,262.69 730.00,262.74 730.25,262.80 730.50,262.85 730.75,262.90 731.00,262.95 731.25,262.99 731.50,263.04 731.75,263.08 732.00,263.12 732.25,263.17 732.50,263.20 732.75,263.24 733.00,263.28 733.25,263.31 733.50,263.34 733.75,263.38 734.00,263.41 734.25,263.44 734.50,263.46 734.75,263.49 735.00,263.52 735.25,263.54 735.50,263.56 735.75,263.59 736.00,263.61 736.25,263.63 736.50,263.65 736.75,263.67 737.00,263.69 737.25,263.70 737.50,263.72 737.75,263.73 738.00,263.75 738.25,263.76 738.50,263.78 738.75,263.79 739.00,263.80 739.25,263.81 739.50,263.82 739.75,263.83 740.00,263.84 740.25,263.85 740.50,263.86 740.75,263.87 741.00,263.88 741.25,263.89 741.50,263.89 741.75,263.90 742.00,263.91 742.25,263.91 742.50,263.92 742.75,263.92 743.00,263.93 743.25,263.93 743.50,263.94 743.75,263.94 744.00,263.94 744.25,263.95 744.50,263.95 744.75,263.95 745.00,263.96 745.25,263.96 745.50,263.96 745.75,263.97 746.00,263.97 746.25,263.97 746.50,263.97 746.75,263.97 747.00,263.98 747.25,263.98 747.50,263.98 747.75,263.98 748.00,263.98 748.25,263.98 748.50,263.98 748.75,263.99 749.00,263.99 749.25,263.99 749.50,263.99 749.75,263.99 750.00,263.99 750.25,263.99 750.50,263.99 750.75,263.99 751.00,263.99 751.25,263.99 751.50,263.99 751.75,263.99 752.00,263.99 752.25,264.00 752.50,264.00 752.75,264.00 753.00,264.00 753.25,264.00 753.50,264.00 753.75,264.00 754.00,264.00" fill="none" stroke="#4c4ca2" stroke-width="2" stroke-linejoin="round"/><polyline points="733.00,263.28 733.25,263.25 733.50,263.21 733.75,263.17 734.00,263.13 734.25,263.09 734.50,263.04 734.75,263.00 735.00,262.95 735.25,262.90 735.50,262.85 735.75,262.80 736.00,262.74 736.25,262.69 736.50,262.63 736.75,262.57 737.00,262.50 737.25,262.44 737.50,262.37 737.75,262.30 738.00,262.23 738.25,262.16 738.50,262.08 738.75,262.00 739.00,261.92 739.25,261.83 739.50,261.75 739.75,261.66 740.00,261.56 740.25,261.47 740.50,261.37 740.75,261.27 741.00,261.17 741.25,261.06 741.50,260.95 741.75,260.84 742.00,260.73 742.25,260.61 742.50,260.49 742.75,260.36 743.00,260.24 743.25,260.11 743.50,259.97 743.75,259.84 744.00,259.70 744.25,259.56 744.50,259.42 744.75,259.27 745.00,259.12 745.25,258.96 745.50,258.81 745.75,258.65 746.00,258.49 746.25,258.32 746.50,258.16 746.75,257.99 747.00,257.81 747.25,257.64 747.50,257.46 747.75,257.28 748.00,257.10 748.25,256.91 748.50,256.73 748.75,256.54 749.00,256.35 749.25,256.15 749.50,255.96 749.75,255.76 750.00,255.56 750.25,255.36 750.50,255.16 750.75,254.95 751.00,254.75 751.25,254.54 751.50,254.34 751.75,254.13 752.00,253.92 752.25,253.71 752.50,253.50 752.75,253.29 753.00,253.08 753.25,252.87 753.50,252.66 753.75,252.45 754.00,252.24 754.25,252.04 754.50,251.83 754.75,251.62 755.00,251.42 755.25,251.21 755.50,251.01 755.75,250.81 756.00,250.61 756.25,250.41 756.50,250.22 756.75,250.03 757.00,249.84 757.25,249.65 757.50,249.46 757.75,249.28 758.00,249.11 758.25,248.93 758.50,248.76 758.75,248.59 759.00,248.43 759.25,248.27 759.50,248.12 759.75,247.96 760.00,247.82 760.25,247.68 760.50,247.54 760.75,247.41 761.00,247.28 761.25,247.16 761.50,247.05 761.75,246.94 762.00,246.83 762.25,246.73 762.50,246.64 762.75,246.55 763.00,246.47 763.25,246.40 763.50,246.33 763.75,246.27 764.00,246.21 764.25,246.16 764.50,246.12 764.75,246.08 765.00,246.05 765.25,246.03 765.50,246.01 765.75,246.00 766.00,246.00 766.25,246.00 766.50,246.01 766.75,246.03 767.00,246.05 767.25,246.08 767.50,246.12 767.75,246.16 768.00,246.21 768.25,246.27 768.50,246.33 768.75,246.40 769.00,246.47 769.25,246.55 769.50,246.64 769.75,246.73 770.00,246.83 770.25,246.93 770.50,247.04 770.75,247.12 771.00,247.13 771.25,246.89 771.50,245.94 771.75,243.33 772.00,237.33 772.25,225.54 772.50,205.63 772.75,176.92 773.00,142.21 773.25,108.43 773.50,84.81 773.75,78.94 774.00,92.88 774.25,122.01 774.50,157.55 774.75,190.81 775.00,216.45 775.25,233.23 775.50,242.73 775.75,247.45 776.00,249.57 776.25,250.49 776.50,250.92 776.75,251.16 777.00,251.24 777.25,251.07 777.50,250.35 777.75,248.61 778.00,245.43 778.25,240.84 778.50,235.65 778.75,231.49 779.00,230.00 779.25,231.91 779.50,236.49 779.75,242.10 780.00,247.11 780.25,250.70 780.50,252.86 780.75,253.99 781.00,254.57 781.25,254.91 781.50,255.15 781.75,255.36 782.00,255.56 782.25,255.76 782.50,255.96 782.75,256.15 783.00,256.35 783.25,256.54 783.50,256.73 783.75,256.91 784.00,257.10 784.25,257.28 784.50,257.46 784.75,257.64 785.00,257.81 785.25,257.99 785.50,258.16 785.75,258.32 786.00,258.49 786.25,258.65 786.50,258.81 786.75,258.96 787.00,259.12 787.25,259.27 787.50,259.42 787.75,259.56 788.00,259.70 788.25,259.84 788.50,259.97 788.75,260.11 789.00,260.24 789.25,260.36 789.50,260.49 789.75,260.61 790.00,260.73 790.25,260.84 790.50,260.95 790.75,261.06 791.00,261.17 791.25,261.27 791.50,261.37 791.75,261.47 792.00,261.56 792.25,261.66 792.50,261.75 792.75,261.83 793.00,261.92 793.25,262.00 793.50,262.08 793.75,262.16 794.00,262.23 794.25,262.30 794.50,262.37 794.75,262.44 795.00,262.50 795.25,262.57 795.50,262.63 795.75,262.69 796.00,262.74 796.25,262.80 796.50,262.85 796.75,262.90 797.00,262.95 797.25,263.00 797.50,263.04 797.75,263.09 798.00,263.13 798.25,263.17 798.50,263.21 798.75,263.25 799.00,263.28 799.25,263.32 799.50,263.35 799.75,263.38 800.00,263.41 800.25,263.44 800.50,263.47 800.75,263.49 801.00,263.52 801.25,263.54 801.50,263.57 801.75,263.59 802.00,263.61 802.25,263.63 802.50,263.65 802.75,263.67 803.00,263.69 803.25,263.70 803.50,263.72 803.75,263.73 804.00,263.75 804.25,263.76 804.50,263.78 804.75,263.79 805.00,263.80 805.25,263.81 805.50,263.82 805.75,263.83 806.00,263.84 806.25,263.85 806.50,263.86 806.75,263.87 807.00,263.88 807.25,263.88 807.50,263.89 807.75,263.90 808.00,263.90 808.25,263.91 808.50,263.91 808.75,263.92 809.00,263.92 809.25,263.93 809.50,263.93 809.75,263.94 810.00,263.94 810.25,263.95 810.50,263.95 810.75,263.95 811.00,263.95 811.25,263.96 811.50,263.96 811.75,263.96 812.00,263.97 812.25,263.97 812.50,263.97 812.75,263.97 813.00,263.97 813.25,263.98 813.50,263.98 813.75,263.98 814.00,263.98 814.25,263.98 814.50,263.98 814.75,263.98 815.00,263.99 815.25,263.99 815.50,263.99 815.75,263.99 816.00,263.99 816.25,263.99 816.50,263.99 816.75,263.99 817.00,263.99 817.25,263.99 817.50,263.99 817.75,263.99 818.00,263.99 818.25,263.99 818.50,263.99 818.75,264.00 819.00,264.00 819.25,264.00 819.50,264.00 819.75,264.00 820.00,264.00" fill="none" stroke="#2a9bd8" stroke-width="2" stroke-linejoin="round"/><polyline points="770.00,263.73 770.25,263.71 770.50,263.69 770.75,263.68 771.00,263.66 771.25,263.64 771.50,263.62 771.75,263.60 772.00,263.57 772.25,263.55 772.50,263.53 772.75,263.50 773.00,263.47 773.25,263.44 773.50,263.42 773.75,263.38 774.00,263.35 774.25,263.32 774.50,263.28 774.75,263.25 775.00,263.21 775.25,263.17 775.50,263.13 775.75,263.09 776.00,263.05 776.25,263.00 776.50,262.95 776.75,262.90 777.00,262.85 777.25,262.80 777.50,262.75 777.75,262.69 778.00,262.63 778.25,262.57 778.50,262.51 778.75,262.44 779.00,262.38 779.25,262.31 779.50,262.24 779.75,262.16 780.00,262.09 780.25,262.01 780.50,261.93 780.75,261.85 781.00,261.76 781.25,261.68 781.50,261.59 781.75,261.50 782.00,261.40 782.25,261.31 782.50,261.21 782.75,261.11 783.00,261.01 783.25,260.90 783.50,260.80 783.75,260.69 784.00,260.57 784.25,260.46 784.50,260.34 784.75,260.22 785.00,260.10 785.25,259.98 785.50,259.86 785.75,259.73 786.00,259.60 786.25,259.47 786.50,259.34 786.75,259.20 787.00,259.07 787.25,258.93 787.50,258.79 787.75,258.65 788.00,258.51 788.25,258.36 788.50,258.22 788.75,258.07 789.00,257.92 789.25,257.78 789.50,257.63 789.75,257.48 790.00,257.33 790.25,257.18 790.50,257.02 790.75,256.87 791.00,256.72 791.25,256.57 791.50,256.42 791.75,256.27 792.00,256.12 792.25,255.97 792.50,255.82 792.75,255.67 793.00,255.52 793.25,255.37 793.50,255.23 793.75,255.08 794.00,254.94 794.25,254.80 794.50,254.66 794.75,254.53 795.00,254.39 795.25,254.26 795.50,254.13 795.75,254.00 796.00,253.88 796.25,253.76 796.50,253.64 796.75,253.52 797.00,253.41 797.25,253.30 797.50,253.20 797.75,253.10 798.00,253.00 798.25,252.90 798.50,252.81 798.75,252.73 799.00,252.65 799.25,252.57 799.50,252.50 799.75,252.43 800.00,252.37 800.25,252.31 800.50,252.26 800.75,252.21 801.00,252.17 801.25,252.13 801.50,252.09 801.75,252.06 802.00,252.04 802.25,252.02 802.50,252.01 802.75,252.00 803.00,252.00 803.25,252.00 803.50,252.01 803.75,252.02 804.00,252.04 804.25,252.06 804.50,252.09 804.75,252.13 805.00,252.17 805.25,252.21 805.50,252.26 805.75,252.31 806.00,252.37 806.25,252.43 806.50,252.50 806.75,252.57 807.00,252.65 807.25,252.73 807.50,252.81 807.75,252.90 808.00,253.00 808.25,253.10 808.50,253.20 808.75,253.30 809.00,253.41 809.25,253.52 809.50,253.64 809.75,253.76 810.00,253.88 810.25,254.00 810.50,254.13 810.75,254.26 811.00,254.39 811.25,254.53 811.50,254.66 811.75,254.80 812.00,254.94 812.25,255.08 812.50,255.23 812.75,255.37 813.00,255.52 813.25,255.67 813.50,255.82 813.75,255.97 814.00,256.12 814.25,256.27 814.50,256.42 814.75,256.57 815.00,256.72 815.25,256.87 815.50,257.02 815.75,257.18 816.00,257.32 816.25,257.46 816.50,257.55 816.75,257.52 817.00,257.18 817.25,256.25 817.50,254.37 817.75,251.39 818.00,247.65 818.25,244.14 818.50,242.15 818.75,242.54 819.00,239.69 819.25,226.66 819.50,210.90 819.75,195.55 820.00,184.84 820.25,182.21 820.50,188.61 820.75,201.94 821.00,218.19 821.25,233.39 821.50,214.87 821.75,184.09 822.00,146.88 822.25,110.66 822.50,85.32 822.75,78.96 823.00,93.79 823.25,124.88 823.50,162.83 823.75,198.33 824.00,205.14 824.25,190.75 824.50,182.73 824.75,183.76 825.00,193.53 825.25,208.87 825.50,225.48 825.75,239.77 826.00,250.06 826.25,256.40 826.50,259.79 826.75,261.39 827.00,262.07 827.25,262.35 827.50,262.48 827.75,262.56 828.00,262.63 828.25,262.69 828.50,262.75 828.75,262.80 829.00,262.85 829.25,262.90 829.50,262.95 829.75,263.00 830.00,263.05" fill="none" stroke="#48b04c" stroke-width="2" stroke-linejoin="round"/><polyline points="811.00,261.22 811.25,261.14 811.50,261.05 811.75,260.95 812.00,260.86 812.25,260.76 812.50,260.67 812.75,260.57 813.00,260.47 813.25,260.36 813.50,260.26 813.75,260.15 814.00,260.05 814.25,259.94 814.50,259.82 814.75,259.71 815.00,259.60 815.25,259.48 815.50,259.36 815.75,259.24 816.00,259.12 816.25,259.00 816.50,258.87 816.75,258.75 817.00,258.62 817.25,258.49 817.50,258.36 817.75,258.23 818.00,258.10 818.25,257.97 818.50,257.83 818.75,257.70 819.00,257.56 819.25,257.43 819.50,257.29 819.75,257.15 820.00,257.01 820.25,256.87 820.50,256.73 820.75,256.59 821.00,256.45 821.25,256.31 821.50,256.17 821.75,256.03 822.00,255.89 822.25,255.75 822.50,255.61 822.75,255.47 823.00,255.33 823.25,255.19 823.50,255.05 823.75,254.91 824.00,254.78 824.25,254.64 824.50,254.51 824.75,254.37 825.00,254.24 825.25,254.11 825.50,253.98 825.75,253.85 826.00,253.72 826.25,253.60 826.50,253.48 826.75,253.35 827.00,253.24 827.25,253.12 827.50,253.00 827.75,252.89 828.00,252.78 828.25,252.67 828.50,252.57 828.75,252.47 829.00,252.37 829.25,252.27 829.50,252.18 829.75,252.09 830.00,252.00 830.25,251.92 830.50,251.83 830.75,251.76 831.00,251.68 831.25,251.61 831.50,251.55 831.75,251.48 832.00,251.42 832.25,251.37 832.50,251.31 832.75,251.27 833.00,251.22 833.25,251.18 833.50,251.15 833.75,251.11 834.00,251.08 834.25,251.06 834.50,251.04 834.75,251.02 835.00,251.01 835.25,251.00 835.50,251.00 835.75,251.00 836.00,251.01 836.25,251.01 836.50,251.03 836.75,251.04 837.00,251.06 837.25,251.09 837.50,251.12 837.75,251.15 838.00,251.19 838.25,251.23 838.50,251.28 838.75,251.32 839.00,251.38 839.25,251.43 839.50,251.49 839.75,251.56 840.00,251.63 840.25,251.70 840.50,251.77 840.75,251.85 841.00,251.93 841.25,252.02 841.50,252.10 841.75,252.20 842.00,252.29 842.25,252.39 842.50,252.49 842.75,252.59 843.00,252.69 843.25,252.80 843.50,252.91 843.75,253.03 844.00,253.14 844.25,253.26 844.50,253.38 844.75,253.50 845.00,253.62 845.25,253.75 845.50,253.88 845.75,254.00 846.00,254.13 846.25,254.26 846.50,254.38 846.75,254.46 847.00,254.41 847.25,253.94 847.50,252.42 847.75,248.54 848.00,240.18 848.25,224.73 848.50,200.21 848.75,167.16 849.00,130.27 849.25,98.10 849.50,80.15 849.75,82.40 850.00,104.12 850.25,138.31 850.50,175.30 850.75,207.16 851.00,230.08 851.25,244.18 851.50,251.72 851.75,255.26 852.00,256.77 852.25,257.39 852.50,257.67 852.75,257.69 853.00,257.44 853.25,256.59 853.50,254.58 853.75,250.86 854.00,245.28 854.25,238.65 854.50,232.86 854.75,230.06 855.00,231.48 855.25,236.56 855.50,243.36 855.75,249.77 856.00,254.52 856.25,257.40 856.50,258.88 856.75,259.57 857.00,259.88 857.25,260.05 857.50,260.17 857.75,260.28 858.00,260.39 858.25,260.49 858.50,260.59 858.75,260.69 859.00,260.78 859.25,260.88 859.50,260.97 859.75,261.06 860.00,261.15 860.25,261.24 860.50,261.33 860.75,261.41 861.00,261.49 861.25,261.57 861.50,261.65 861.75,261.73 862.00,261.80 862.25,261.88 862.50,261.95 862.75,262.02 863.00,262.08 863.25,262.15 863.50,262.22 863.75,262.28 864.00,262.34 864.25,262.40 864.50,262.46 864.75,262.51 865.00,262.57 865.25,262.62 865.50,262.67 865.75,262.72 866.00,262.77 866.25,262.82 866.50,262.86 866.75,262.91 867.00,262.95 867.25,262.99 867.50,263.03 867.75,263.07 868.00,263.11 868.25,263.14 868.50,263.18 868.75,263.21 869.00,263.24 869.25,263.28 869.50,263.31 869.75,263.34 870.00,263.36 870.25,263.39 870.50,263.42 870.75,263.44 871.00,263.47 871.25,263.49 871.50,263.51 871.75,263.54 872.00,263.56 872.25,263.58 872.50,263.60 872.75,263.62 873.00,263.63 873.25,263.65 873.50,263.67 873.75,263.68 874.00,263.70 874.25,263.71 874.50,263.73 874.75,263.74 875.00,263.75 875.25,263.76 875.50,263.78 875.75,263.79 876.00,263.80 876.25,263.81 876.50,263.82 876.75,263.83 877.00,263.84 877.25,263.84 877.50,263.85 877.75,263.86 878.00,263.87 878.25,263.87 878.50,263.88 878.75,263.89 879.00,263.89 879.25,263.90 879.50,263.90 879.75,263.91 880.00,263.91" fill="none" stroke="#5aaf31" stroke-width="2" stroke-linejoin="round"/><polyline points="862.00,261.00 862.25,260.97 862.50,260.95 862.75,260.93 863.00,260.90 863.25,260.88 863.50,260.86 863.75,260.83 864.00,260.81 864.25,260.78 864.50,260.76 864.75,260.74 865.00,260.71 865.25,260.69 865.50,260.66 865.75,260.64 866.00,260.61 866.25,260.59 866.50,260.56 866.75,260.54 867.00,260.51 867.25,260.49 867.50,260.46 867.75,260.44 868.00,260.41 868.25,260.39 868.50,260.36 868.75,260.34 869.00,260.31 869.25,260.29 869.50,260.26 869.75,260.24 870.00,260.21 870.25,260.18 870.50,260.16 870.75,260.13 871.00,260.11 871.25,260.08 871.50,260.05 871.75,260.03 872.00,260.00 872.25,259.98 872.50,259.95 872.75,259.92 873.00,259.90 873.25,259.87 873.50,259.84 873.75,259.82 874.00,259.79 874.25,259.76 874.50,259.74 874.75,259.71 875.00,259.68 875.25,259.66 875.50,259.63 875.75,259.60 876.00,259.58 876.25,259.55 876.50,259.52 876.75,259.50 877.00,259.47 877.25,259.44 877.50,259.42 877.75,259.39 878.00,259.36 878.25,259.34 878.50,259.31 878.75,259.28 879.00,259.26 879.25,259.23 879.50,259.20 879.75,259.17 880.00,259.15 880.25,259.12 880.50,259.09 880.75,259.07 881.00,259.04 881.25,259.01 881.50,258.99 881.75,258.96 882.00,258.93 882.25,258.91 882.50,258.88 882.75,258.85 883.00,258.82 883.25,258.80 883.50,258.77 883.75,258.74 884.00,258.72 884.25,258.69 884.50,258.66 884.75,258.64 885.00,258.61 885.25,258.58 885.50,258.56 885.75,258.53 886.00,258.50 886.25,258.48 886.50,258.45 886.75,258.43 887.00,258.40 887.25,258.37 887.50,258.35 887.75,258.32 888.00,258.29 888.25,258.27 888.50,258.24 888.75,258.22 889.00,258.19 889.25,258.17 889.50,258.14 889.75,258.11 890.00,258.09 890.25,258.06 890.50,258.04 890.75,258.01 891.00,257.99 891.25,257.96 891.50,257.94 891.75,257.91 892.00,257.89 892.25,257.86 892.50,257.84 892.75,257.81 893.00,257.79 893.25,257.76 893.50,257.74 893.75,257.71 894.00,257.69 894.25,257.67 894.50,257.64 894.75,257.62 895.00,257.59 895.25,257.57 895.50,257.55 895.75,257.52 896.00,257.50 896.25,257.48 896.50,257.45 896.75,257.43 897.00,257.41 897.25,257.39 897.50,257.36 897.75,257.34 898.00,257.32 898.25,257.30 898.50,257.27 898.75,257.25 899.00,257.23 899.25,257.21 899.50,257.19 899.75,257.17 900.00,257.14 900.25,257.12 900.50,257.10 900.75,257.08 901.00,257.06 901.25,257.04 901.50,257.02 901.75,257.00 902.00,256.98 902.25,256.96 902.50,256.94 902.75,256.92 903.00,256.90 903.25,256.88 903.50,256.86 903.75,256.84 904.00,256.83 904.25,256.81 904.50,256.79 904.75,256.77 905.00,256.75 905.25,256.73 905.50,256.72 905.75,256.70 906.00,256.68 906.25,256.67 906.50,256.65 906.75,256.63 907.00,256.62 907.25,256.60 907.50,256.58 907.75,256.57 908.00,256.55 908.25,256.54 908.50,256.52 908.75,256.50 909.00,256.49 909.25,256.48 909.50,256.46 909.75,256.45 910.00,256.43 910.25,256.42 910.50,256.40 910.75,256.39 911.00,256.38 911.25,256.36 911.50,256.35 911.75,256.34 912.00,256.33 912.25,256.31 912.50,256.30 912.75,256.29 913.00,256.28 913.25,256.27 913.50,256.26 913.75,256.25 914.00,256.24 914.25,256.23 914.50,256.21 914.75,256.20 915.00,256.20 915.25,256.19 915.50,256.18 915.75,256.17 916.00,256.16 916.25,256.15 916.50,256.14 916.75,256.13 917.00,256.13 917.25,256.12 917.50,256.11 917.75,256.08 918.00,256.01 918.25,255.81 918.50,255.35 918.75,254.48 919.00,253.22 919.25,251.90 919.50,251.08 919.75,251.18 920.00,252.13 920.25,253.47 920.50,254.65 920.75,255.42 921.00,255.81 921.25,255.96 921.50,256.01 921.75,256.02 922.00,256.02 922.25,256.01 922.50,256.01 922.75,256.01 923.00,255.99 923.25,255.94 923.50,255.74 923.75,255.14 924.00,253.48 924.25,249.46 924.50,240.97 924.75,225.39 925.00,200.75 925.25,167.58 925.50,130.57 925.75,98.28 926.00,80.20 926.25,82.31 926.50,103.89 926.75,137.91 927.00,174.74 927.25,206.44 927.50,229.21 927.75,243.17 928.00,250.56 928.25,253.97 928.50,255.34 928.75,255.82 929.00,255.98 929.25,256.02 929.50,256.04 929.75,256.04 930.00,256.01 930.25,255.92 930.50,255.64 930.75,254.89 931.00,253.26 931.25,250.32 931.50,245.96 931.75,240.81 932.00,236.29 932.25,234.07 932.50,235.06 932.75,238.85 933.00,243.97 933.25,248.79 933.50,252.33 933.75,254.45 934.00,255.51 934.25,255.95 934.50,256.12 934.75,256.17 935.00,256.19 935.25,256.20 935.50,256.21 935.75,256.23 936.00,256.24 936.25,256.25 936.50,256.26 936.75,256.27 937.00,256.28 937.25,256.29 937.50,256.30 937.75,256.31 938.00,256.33 938.25,256.34 938.50,256.35 938.75,256.36 939.00,256.38 939.25,256.39 939.50,256.40 939.75,256.42 940.00,256.43 940.25,256.45 940.50,256.46 940.75,256.48 941.00,256.49 941.25,256.50 941.50,256.52 941.75,256.54 942.00,256.55 942.25,256.57 942.50,256.58 942.75,256.60 943.00,256.62 943.25,256.63 943.50,256.65 943.75,256.67 944.00,256.68 944.25,256.70 944.50,256.72 944.75,256.73 945.00,256.75 945.25,256.77 945.50,256.79 945.75,256.81 946.00,256.83 946.25,256.84 946.50,256.86 946.75,256.88 947.00,256.90 947.25,256.92 947.50,256.94 947.75,256.96 948.00,256.98 948.25,257.00 948.50,257.02 948.75,257.04 949.00,257.06 949.25,257.08 949.50,257.10 949.75,257.12 950.00,257.14 950.25,257.17 950.50,257.19 950.75,257.21 951.00,257.23 951.25,257.25 951.50,257.27 951.75,257.30 952.00,257.32 952.25,257.34 952.50,257.36 952.75,257.39 953.00,257.41 953.25,257.43 953.50,257.45 953.75,257.48 954.00,257.50 954.25,257.52 954.50,257.55 954.75,257.57 955.00,257.59 955.25,257.62 955.50,257.64 955.75,257.67 956.00,257.69 956.25,257.71 956.50,257.74 956.75,257.76 957.00,257.79 957.25,257.81 957.50,257.84 957.75,257.86 958.00,257.89 958.25,257.91 958.50,257.94 958.75,257.96 959.00,257.99 959.25,258.01 959.50,258.04 959.75,258.06 960.00,258.09 960.25,258.11 960.50,258.14 960.75,258.17 961.00,258.19 961.25,258.22 961.50,258.24 961.75,258.27 962.00,258.29 962.25,258.32 962.50,258.35 962.75,258.37 963.00,258.40 963.25,258.43 963.50,258.45 963.75,258.48 964.00,258.50 964.25,258.53 964.50,258.56 964.75,258.58 965.00,258.61 965.25,258.64 965.50,258.66 965.75,258.69 966.00,258.72 966.25,258.74 966.50,258.77 966.75,258.80 967.00,258.82 967.25,258.85 967.50,258.88 967.75,258.91 968.00,258.93 968.25,258.96 968.50,258.99 968.75,259.01 969.00,259.04 969.25,259.07 969.50,259.09 969.75,259.12 970.00,259.15 970.25,259.17 970.50,259.20 970.75,259.23 971.00,259.26 971.25,259.28 971.50,259.31 971.75,259.34 972.00,259.36 972.25,259.39 972.50,259.42 972.75,259.44 973.00,259.47 973.25,259.50 973.50,259.52 973.75,259.55 974.00,259.58 974.25,259.60 974.50,259.63 974.75,259.66 975.00,259.68 975.25,259.71 975.50,259.74 975.75,259.76 976.00,259.79 976.25,259.82 976.50,259.84 976.75,259.87 977.00,259.90 977.25,259.92 977.50,259.95 977.75,259.98 978.00,260.00 978.25,260.03 978.50,260.05 978.75,260.08 979.00,260.11 979.25,260.13 979.50,260.16 979.75,260.18 980.00,260.21 980.25,260.24 980.50,260.26 980.75,260.29 981.00,260.31 981.25,260.34 981.50,260.36 981.75,260.39 982.00,260.41 982.25,260.44 982.50,260.46 982.75,260.49 983.00,260.51 983.25,260.54 983.50,260.56 983.75,260.59 984.00,260.61 984.25,260.64 984.50,260.66 984.75,260.69 985.00,260.71 985.25,260.74 985.50,260.76 985.75,260.78 986.00,260.81 986.25,260.83 986.50,260.86 986.75,260.88 987.00,260.90 987.25,260.93 987.50,260.95 987.75,260.97 988.00,261.00 988.25,261.02 988.50,261.04 988.75,261.07 989.00,261.09 989.25,261.11 989.50,261.14 989.75,261.16 990.00,261.18" fill="none" stroke="#dbd41c" stroke-width="2" stroke-linejoin="round"/><polyline points="887.00,261.97 887.25,261.95 887.50,261.93 887.75,261.91 888.00,261.89 888.25,261.87 888.50,261.85 888.75,261.83 889.00,261.81 889.25,261.79 889.50,261.77 889.75,261.75 890.00,261.73 890.25,261.71 890.50,261.68 890.75,261.66 891.00,261.64 891.25,261.62 891.50,261.60 891.75,261.58 892.00,261.55 892.25,261.53 892.50,261.51 892.75,261.49 893.00,261.46 893.25,261.44 893.50,261.42 893.75,261.40 894.00,261.37 894.25,261.35 894.50,261.33 894.75,261.30 895.00,261.28 895.25,261.26 895.50,261.23 895.75,261.21 896.00,261.19 896.25,261.16 896.50,261.14 896.75,261.11 897.00,261.09 897.25,261.07 897.50,261.04 897.75,261.02 898.00,260.99 898.25,260.97 898.50,260.94 898.75,260.92 899.00,260.89 899.25,260.87 899.50,260.85 899.75,260.82 900.00,260.80 900.25,260.77 900.50,260.74 900.75,260.72 901.00,260.69 901.25,260.67 901.50,260.64 901.75,260.62 902.00,260.59 902.25,260.57 902.50,260.54 902.75,260.52 903.00,260.49 903.25,260.46 903.50,260.44 903.75,260.41 904.00,260.39 904.25,260.36 904.50,260.33 904.75,260.31 905.00,260.28 905.25,260.26 905.50,260.23 905.75,260.20 906.00,260.18 906.25,260.15 906.50,260.12 906.75,260.10 907.00,260.07 907.25,260.05 907.50,260.02 907.75,259.99 908.00,259.97 908.25,259.94 908.50,259.91 908.75,259.89 909.00,259.86 909.25,259.83 909.50,259.81 909.75,259.78 910.00,259.75 910.25,259.73 910.50,259.70 910.75,259.67 911.00,259.65 911.25,259.62 911.50,259.60 911.75,259.57 912.00,259.54 912.25,259.52 912.50,259.49 912.75,259.46 913.00,259.44 913.25,259.41 913.50,259.38 913.75,259.36 914.00,259.33 914.25,259.30 914.50,259.28 914.75,259.25 915.00,259.23 915.25,259.20 915.50,259.17 915.75,259.15 916.00,259.12 916.25,259.10 916.50,259.07 916.75,259.04 917.00,259.02 917.25,258.99 917.50,258.97 917.75,258.94 918.00,258.92 918.25,258.89 918.50,258.87 918.75,258.84 919.00,258.82 919.25,258.79 919.50,258.77 919.75,258.74 920.00,258.72 920.25,258.69 920.50,258.67 920.75,258.64 921.00,258.62 921.25,258.59 921.50,258.57 921.75,258.55 922.00,258.52 922.25,258.50 922.50,258.47 922.75,258.45 923.00,258.43 923.25,258.40 923.50,258.38 923.75,258.36 924.00,258.33 924.25,258.31 924.50,258.29 924.75,258.26 925.00,258.24 925.25,258.22 925.50,258.20 925.75,258.18 926.00,258.15 926.25,258.13 926.50,258.11 926.75,258.09 927.00,258.07 927.25,258.05 927.50,258.02 927.75,258.00 928.00,257.98 928.25,257.96 928.50,257.94 928.75,257.92 929.00,257.90 929.25,257.88 929.50,257.86 929.75,257.84 930.00,257.82 930.25,257.80 930.50,257.78 930.75,257.77 931.00,257.75 931.25,257.73 931.50,257.71 931.75,257.69 932.00,257.67 932.25,257.66 932.50,257.64 932.75,257.62 933.00,257.60 933.25,257.59 933.50,257.57 933.75,257.55 934.00,257.54 934.25,257.52 934.50,257.51 934.75,257.49 935.00,257.48 935.25,257.46 935.50,257.45 935.75,257.43 936.00,257.42 936.25,257.40 936.50,257.39 936.75,257.37 937.00,257.36 937.25,257.35 937.50,257.33 937.75,257.32 938.00,257.31 938.25,257.30 938.50,257.28 938.75,257.27 939.00,257.26 939.25,257.25 939.50,257.24 939.75,257.23 940.00,257.22 940.25,257.20 940.50,257.19 940.75,257.18 941.00,257.17 941.25,257.17 941.50,257.16 941.75,257.15 942.00,257.14 942.25,257.13 942.50,257.12 942.75,257.11 943.00,257.11 943.25,257.10 943.50,257.09 943.75,257.08 944.00,257.08 944.25,257.07 944.50,257.07 944.75,257.06 945.00,257.05 945.25,257.05 945.50,257.04 945.75,257.04 946.00,257.03 946.25,257.03 946.50,257.03 946.75,257.02 947.00,257.02 947.25,257.02 947.50,257.01 947.75,257.01 948.00,257.01 948.25,257.01 948.50,257.00 948.75,257.00 949.00,257.00 949.25,257.00 949.50,257.00 949.75,257.00 950.00,257.00 950.25,257.00 950.50,257.00 950.75,257.00 951.00,257.00 951.25,257.00 951.50,257.00 951.75,257.01 952.00,257.01 952.25,257.01 952.50,257.01 952.75,257.02 953.00,257.02 953.25,257.02 953.50,257.03 953.75,257.03 954.00,257.03 954.25,257.04 954.50,257.04 954.75,257.04 955.00,257.02 955.25,256.94 955.50,256.68 955.75,255.96 956.00,254.21 956.25,250.38 956.50,242.88 956.75,229.76 957.00,209.40 957.25,181.62 957.50,148.77 957.75,116.08 958.00,90.62 958.25,78.85 958.50,84.00 958.75,104.66 959.00,135.35 959.25,168.92 959.50,199.20 959.75,222.64 960.00,228.23 960.25,232.76 960.50,237.94 960.75,243.03 961.00,247.47 961.25,250.97 961.50,253.49 961.75,255.17 962.00,256.19 962.25,256.77 962.50,257.08 962.75,257.24 963.00,257.32 963.25,257.36 963.50,257.38 963.75,257.40 964.00,257.42 964.25,257.43 964.50,257.45 964.75,257.46 965.00,257.48 965.25,257.49 965.50,257.51 965.75,257.52 966.00,257.54 966.25,257.55 966.50,257.57 966.75,257.59 967.00,257.60 967.25,257.62 967.50,257.64 967.75,257.66 968.00,257.67 968.25,257.69 968.50,257.71 968.75,257.73 969.00,257.75 969.25,257.77 969.50,257.78 969.75,257.80 970.00,257.82 970.25,257.84 970.50,257.86 970.75,257.88 971.00,257.90 971.25,257.92 971.50,257.94 971.75,257.96 972.00,257.98 972.25,258.00 972.50,258.02 972.75,258.05 973.00,258.07 973.25,258.09 973.50,258.11 973.75,258.13 974.00,258.15 974.25,258.18 974.50,258.20 974.75,258.22 975.00,258.24 975.25,258.26 975.50,258.29 975.75,258.31 976.00,258.33 976.25,258.36 976.50,258.38 976.75,258.40 977.00,258.43 977.25,258.45 977.50,258.47 977.75,258.50 978.00,258.52 978.25,258.55 978.50,258.57 978.75,258.59 979.00,258.62 979.25,258.64 979.50,258.67 979.75,258.69 980.00,258.72 980.25,258.74 980.50,258.77 980.75,258.79 981.00,258.82 981.25,258.84 981.50,258.87 981.75,258.89 982.00,258.92 982.25,258.94 982.50,258.97 982.75,258.99 983.00,259.02 983.25,259.04 983.50,259.07 983.75,259.10 984.00,259.12 984.25,259.15 984.50,259.17 984.75,259.20 985.00,259.23 985.25,259.25 985.50,259.28 985.75,259.30 986.00,259.33 986.25,259.36 986.50,259.38 986.75,259.41 987.00,259.44 987.25,259.46 987.50,259.49 987.75,259.52 988.00,259.54 988.25,259.57 988.50,259.60 988.75,259.62 989.00,259.65 989.25,259.67 989.50,259.70 989.75,259.73 990.00,259.75 990.25,259.78 990.50,259.81 990.75,259.83 991.00,259.86 991.25,259.89 991.50,259.91 991.75,259.94 992.00,259.97 992.25,259.99 992.50,260.02 992.75,260.05 993.00,260.07 993.25,260.10 993.50,260.12 993.75,260.15 994.00,260.18 994.25,260.20 994.50,260.23 994.75,260.26 995.00,260.28 995.25,260.31 995.50,260.33 995.75,260.36 996.00,260.39 996.25,260.41 996.50,260.44 996.75,260.46 997.00,260.49 997.25,260.52 997.50,260.54 997.75,260.57 998.00,260.59 998.25,260.62 998.50,260.64 998.75,260.67 999.00,260.69 999.25,260.72 999.50,260.74 999.75,260.77 1000.00,260.80" fill="none" stroke="#fde400" stroke-width="2" stroke-linejoin="round"/><polyline points="932.00,263.57 932.25,263.56 932.50,263.55 932.75,263.54 933.00,263.53 933.25,263.52 933.50,263.51 933.75,263.49 934.00,263.48 934.25,263.47 934.50,263.46 934.75,263.44 935.00,263.43 935.25,263.41 935.50,263.40 935.75,263.39 936.00,263.37 936.25,263.36 936.50,263.34 936.75,263.33 937.00,263.31 937.25,263.29 937.50,263.28 937.75,263.26 938.00,263.24 938.25,263.23 938.50,263.21 938.75,263.19 939.00,263.17 939.25,263.15 939.50,263.13 939.75,263.11 940.00,263.09 940.25,263.07 940.50,263.05 940.75,263.03 941.00,263.01 941.25,262.99 941.50,262.97 941.75,262.94 942.00,262.92 942.25,262.90 942.50,262.87 942.75,262.85 943.00,262.82 943.25,262.80 943.50,262.77 943.75,262.75 944.00,262.72 944.25,262.70 944.50,262.67 944.75,262.64 945.00,262.61 945.25,262.58 945.50,262.56 945.75,262.53 946.00,262.50 946.25,262.47 946.50,262.43 946.75,262.40 947.00,262.37 947.25,262.34 947.50,262.31 947.75,262.27 948.00,262.24 948.25,262.21 948.50,262.17 948.75,262.14 949.00,262.10 949.25,262.07 949.50,262.03 949.75,261.99 950.00,261.95 950.25,261.92 950.50,261.88 950.75,261.84 951.00,261.80 951.25,261.76 951.50,261.72 951.75,261.68 952.00,261.63 952.25,261.59 952.50,261.55 952.75,261.51 953.00,261.46 953.25,261.42 953.50,261.37 953.75,261.33 954.00,261.28 954.25,261.24 954.50,261.19 954.75,261.14 955.00,261.09 955.25,261.04 955.50,261.00 955.75,260.95 956.00,260.90 956.25,260.84 956.50,260.79 956.75,260.74 957.00,260.69 957.25,260.64 957.50,260.58 957.75,260.53 958.00,260.47 958.25,260.42 958.50,260.36 958.75,260.31 959.00,260.25 959.25,260.19 959.50,260.14 959.75,260.08 960.00,260.02 960.25,259.96 960.50,259.90 960.75,259.84 961.00,259.78 961.25,259.72 961.50,259.66 961.75,259.59 962.00,259.53 962.25,259.47 962.50,259.41 962.75,259.34 963.00,259.28 963.25,259.21 963.50,259.15 963.75,259.08 964.00,259.02 964.25,258.95 964.50,258.88 964.75,258.81 965.00,258.75 965.25,258.68 965.50,258.61 965.75,258.54 966.00,258.47 966.25,258.40 966.50,258.33 966.75,258.26 967.00,258.19 967.25,258.12 967.50,258.05 967.75,257.98 968.00,257.90 968.25,257.83 968.50,257.76 968.75,257.69 969.00,257.61 969.25,257.54 969.50,257.47 969.75,257.39 970.00,257.32 970.25,257.24 970.50,257.17 970.75,257.10 971.00,257.02 971.25,256.95 971.50,256.87 971.75,256.80 972.00,256.72 972.25,256.65 972.50,256.57 972.75,256.49 973.00,256.42 973.25,256.34 973.50,256.27 973.75,256.19 974.00,256.12 974.25,256.04 974.50,255.96 974.75,255.89 975.00,255.81 975.25,255.74 975.50,255.66 975.75,255.59 976.00,255.51 976.25,255.43 976.50,255.36 976.75,255.28 977.00,255.21 977.25,255.13 977.50,255.06 977.75,254.99 978.00,254.91 978.25,254.84 978.50,254.76 978.75,254.69 979.00,254.62 979.25,254.55 979.50,254.47 979.75,254.40 980.00,254.33 980.25,254.26 980.50,254.19 980.75,254.12 981.00,254.05 981.25,253.98 981.50,253.91 981.75,253.84 982.00,253.77 982.25,253.70 982.50,253.64 982.75,253.57 983.00,253.50 983.25,253.44 983.50,253.37 983.75,253.31 984.00,253.24 984.25,253.18 984.50,253.12 984.75,253.05 985.00,252.99 985.25,252.93 985.50,252.87 985.75,252.81 986.00,252.75 986.25,252.70 986.50,252.64 986.75,252.58 987.00,252.53 987.25,252.47 987.50,252.42 987.75,252.37 988.00,252.31 988.25,252.26 988.50,252.21 988.75,252.16 989.00,252.11 989.25,252.07 989.50,252.02 989.75,251.97 990.00,251.93 990.25,251.88 990.50,251.84 990.75,251.80 991.00,251.76 991.25,251.72 991.50,251.68 991.75,251.64 992.00,251.60 992.25,251.56 992.50,251.53 992.75,251.50 993.00,251.46 993.25,251.43 993.50,251.40 993.75,251.37 994.00,251.34 994.25,251.31 994.50,251.29 994.75,251.26 995.00,251.24 995.25,251.22 995.50,251.19 995.75,251.17 996.00,251.15 996.25,251.13 996.50,251.12 996.75,251.10 997.00,251.09 997.25,251.07 997.50,251.06 997.75,251.05 998.00,251.04 998.25,251.03 998.50,251.02 998.75,251.02 999.00,251.01 999.25,251.01 999.50,251.00 999.75,251.00 1000.00,251.00 1000.25,251.00 1000.50,251.00 1000.75,251.00 1001.00,251.00 1001.25,250.97 1001.50,250.87 1001.75,250.55 1002.00,249.75 1002.25,248.06 1002.50,245.12 1002.75,240.95 1003.00,236.26 1003.25,232.46 1003.50,231.00 1003.75,232.49 1004.00,236.33 1004.25,241.05 1004.50,245.26 1004.75,247.55 1005.00,245.87 1005.25,244.51 1005.50,244.00 1005.75,244.56 1006.00,245.97 1006.25,247.70 1006.50,249.25 1006.75,250.35 1007.00,251.00 1007.25,251.32 1007.50,251.47 1007.75,251.54 1008.00,251.51 1008.25,251.31 1008.50,250.62 1008.75,248.70 1009.00,244.13 1009.25,234.69 1009.50,217.83 1009.75,191.95 1010.00,158.30 1010.25,122.32 1010.50,92.88 1010.75,78.91 1011.00,85.11 1011.25,109.38 1011.50,144.01 1011.75,179.58 1012.00,209.03 1012.25,229.52 1012.50,241.73 1012.75,248.04 1013.00,250.90 1013.25,252.05 1013.50,252.49 1013.75,252.66 1014.00,252.75 1014.25,252.81 1014.50,252.87 1014.75,252.93 1015.00,252.99 1015.25,253.05 1015.50,253.12 1015.75,253.18 1016.00,253.24 1016.25,253.31 1016.50,253.37 1016.75,253.44 1017.00,253.50 1017.25,253.57 1017.50,253.64 1017.75,253.70 1018.00,253.77 1018.25,253.84 1018.50,253.91 1018.75,253.98 1019.00,254.05 1019.25,254.12 1019.50,254.19 1019.75,254.26 1020.00,254.33 1020.25,254.40 1020.50,254.47 1020.75,254.55 1021.00,254.62 1021.25,254.69 1021.50,254.76 1021.75,254.84 1022.00,254.91 1022.25,254.99 1022.50,255.06 1022.75,255.13 1023.00,255.21 1023.25,255.28 1023.50,255.36 1023.75,255.43 1024.00,255.51 1024.25,255.59 1024.50,255.66 1024.75,255.74 1025.00,255.81 1025.25,255.89 1025.50,255.96 1025.75,256.04 1026.00,256.12 1026.25,256.19 1026.50,256.27 1026.75,256.34 1027.00,256.42 1027.25,256.49 1027.50,256.57 1027.75,256.65 1028.00,256.72 1028.25,256.80 1028.50,256.87 1028.75,256.95 1029.00,257.02 1029.25,257.10 1029.50,257.17 1029.75,257.24 1030.00,257.32 1030.25,257.39 1030.50,257.47 1030.75,257.54 1031.00,257.61" fill="none" stroke="#f7a81b" stroke-width="2" stroke-linejoin="round"/><polyline points="990.00,262.55 990.25,262.52 990.50,262.49 990.75,262.46 991.00,262.43 991.25,262.39 991.50,262.36 991.75,262.33 992.00,262.29 992.25,262.26 992.50,262.22 992.75,262.19 993.00,262.15 993.25,262.11 993.50,262.07 993.75,262.04 994.00,262.00 994.25,261.96 994.50,261.92 994.75,261.88 995.00,261.83 995.25,261.79 995.50,261.75 995.75,261.71 996.00,261.66 996.25,261.62 996.50,261.57 996.75,261.53 997.00,261.48 997.25,261.44 997.50,261.39 997.75,261.34 998.00,261.29 998.25,261.24 998.50,261.19 998.75,261.14 999.00,261.09 999.25,261.04 999.50,260.98 999.75,260.93 1000.00,260.88 1000.25,260.82 1000.50,260.77 1000.75,260.71 1001.00,260.65 1001.25,260.60 1001.50,260.54 1001.75,260.48 1002.00,260.42 1002.25,260.36 1002.50,260.30 1002.75,260.24 1003.00,260.18 1003.25,260.12 1003.50,260.05 1003.75,259.99 1004.00,259.92 1004.25,259.86 1004.50,259.79 1004.75,259.73 1005.00,259.66 1005.25,259.59 1005.50,259.52 1005.75,259.45 1006.00,259.39 1006.25,259.32 1006.50,259.24 1006.75,259.17 1007.00,259.10 1007.25,259.03 1007.50,258.95 1007.75,258.88 1008.00,258.81 1008.25,258.73 1008.50,258.65 1008.75,258.58 1009.00,258.50 1009.25,258.42 1009.50,258.35 1009.75,258.27 1010.00,258.19 1010.25,258.11 1010.50,258.03 1010.75,257.95 1011.00,257.87 1011.25,257.78 1011.50,257.70 1011.75,257.62 1012.00,257.53 1012.25,257.45 1012.50,257.37 1012.75,257.28 1013.00,257.20 1013.25,257.11 1013.50,257.02 1013.75,256.94 1014.00,256.85 1014.25,256.76 1014.50,256.67 1014.75,256.59 1015.00,256.50 1015.25,256.41 1015.50,256.32 1015.75,256.23 1016.00,256.14 1016.25,256.05 1016.50,255.96 1016.75,255.87 1017.00,255.78 1017.25,255.69 1017.50,255.59 1017.75,255.50 1018.00,255.41 1018.25,255.32 1018.50,255.23 1018.75,255.13 1019.00,255.04 1019.25,254.95 1019.50,254.85 1019.75,254.76 1020.00,254.67 1020.25,254.58 1020.50,254.48 1020.75,254.39 1021.00,254.30 1021.25,254.20 1021.50,254.11 1021.75,254.02 1022.00,253.92 1022.25,253.83 1022.50,253.74 1022.75,253.64 1023.00,253.55 1023.25,253.46 1023.50,253.37 1023.75,253.27 1024.00,253.18 1024.25,253.09 1024.50,253.00 1024.75,252.91 1025.00,252.81 1025.25,252.72 1025.50,252.63 1025.75,252.54 1026.00,252.45 1026.25,252.36 1026.50,252.27 1026.75,252.19 1027.00,252.10 1027.25,252.01 1027.50,251.92 1027.75,251.84 1028.00,251.75 1028.25,251.66 1028.50,251.58 1028.75,251.49 1029.00,251.41 1029.25,251.33 1029.50,251.24 1029.75,251.16 1030.00,251.08 1030.25,251.00 1030.50,250.92 1030.75,250.84 1031.00,250.76 1031.25,250.68 1031.50,250.60 1031.75,250.53 1032.00,250.45 1032.25,250.38 1032.50,250.30 1032.75,250.23 1033.00,250.16 1033.25,250.09 1033.50,250.02 1033.75,249.95 1034.00,249.88 1034.25,249.81 1034.50,249.75 1034.75,249.68 1035.00,249.62 1035.25,249.55 1035.50,249.49 1035.75,249.43 1036.00,249.37 1036.25,249.31 1036.50,249.25 1036.75,249.20 1037.00,249.14 1037.25,249.09 1037.50,249.03 1037.75,248.98 1038.00,248.93 1038.25,248.88 1038.50,248.83 1038.75,248.79 1039.00,248.74 1039.25,248.70 1039.50,248.65 1039.75,248.61 1040.00,248.57 1040.25,248.53 1040.50,248.49 1040.75,248.46 1041.00,248.42 1041.25,248.39 1041.50,248.35 1041.75,248.32 1042.00,248.29 1042.25,248.26 1042.50,248.24 1042.75,248.21 1043.00,248.19 1043.25,248.17 1043.50,248.14 1043.75,248.12 1044.00,248.11 1044.25,248.09 1044.50,248.07 1044.75,248.06 1045.00,248.05 1045.25,248.04 1045.50,248.03 1045.75,248.02 1046.00,248.01 1046.25,248.01 1046.50,248.00 1046.75,248.00 1047.00,248.00 1047.25,248.00 1047.50,248.00 1047.75,248.01 1048.00,248.01 1048.25,248.02 1048.50,248.03 1048.75,248.04 1049.00,248.05 1049.25,248.06 1049.50,248.07 1049.75,248.09 1050.00,248.11 1050.25,248.12 1050.50,248.14 1050.75,248.17 1051.00,248.19 1051.25,248.21 1051.50,248.24 1051.75,248.26 1052.00,248.29 1052.25,248.32 1052.50,248.35 1052.75,248.39 1053.00,248.42 1053.25,248.46 1053.50,248.49 1053.75,248.52 1054.00,248.54 1054.25,248.49 1054.50,248.24 1054.75,247.40 1055.00,245.14 1055.25,239.89 1055.50,229.35 1055.75,211.07 1056.00,183.89 1056.25,149.79 1056.50,114.95 1056.75,88.43 1057.00,78.50 1057.25,88.54 1057.50,115.17 1057.75,150.12 1058.00,184.33 1058.25,211.62 1058.50,230.01 1058.75,240.66 1059.00,246.01 1059.25,248.39 1059.50,249.34 1059.75,249.70 1060.00,249.85 1060.25,249.94 1060.50,250.02 1060.75,250.09 1061.00,250.14 1061.25,250.17 1061.50,250.05 1061.75,249.52 1062.00,247.99 1062.25,244.48 1062.50,237.83 1062.75,227.52 1063.00,214.71 1063.25,202.66 1063.50,195.65 1063.75,196.56 1064.00,205.06 1064.25,217.76 1064.50,230.43 1064.75,240.19 1065.00,246.30 1065.25,249.48 1065.50,250.90 1065.75,251.47 1066.00,251.70 1066.25,251.83 1066.50,251.92 1066.75,252.01 1067.00,252.10 1067.25,252.19 1067.50,252.27 1067.75,252.36 1068.00,252.45 1068.25,252.54 1068.50,252.63 1068.75,252.72 1069.00,252.81 1069.25,252.91 1069.50,253.00 1069.75,253.09 1070.00,253.18 1070.25,253.27 1070.50,253.37 1070.75,253.46 1071.00,253.55 1071.25,253.64 1071.50,253.74 1071.75,253.83 1072.00,253.92 1072.25,254.02 1072.50,254.11 1072.75,254.20 1073.00,254.30 1073.25,254.39 1073.50,254.48 1073.75,254.58 1074.00,254.67 1074.25,254.76 1074.50,254.85 1074.75,254.95 1075.00,255.04 1075.25,255.13 1075.50,255.23 1075.75,255.32 1076.00,255.41 1076.25,255.50 1076.50,255.59 1076.75,255.69 1077.00,255.78 1077.25,255.87 1077.50,255.96 1077.75,256.05 1078.00,256.14 1078.25,256.23 1078.50,256.32 1078.75,256.41 1079.00,256.50 1079.25,256.59 1079.50,256.67 1079.75,256.76 1080.00,256.85 1080.25,256.94 1080.50,257.02 1080.75,257.11 1081.00,257.20 1081.25,257.28 1081.50,257.37 1081.75,257.45 1082.00,257.53 1082.25,257.62 1082.50,257.70 1082.75,257.78 1083.00,257.87 1083.25,257.95 1083.50,258.03 1083.75,258.11 1084.00,258.19 1084.25,258.27 1084.50,258.35 1084.75,258.42 1085.00,258.50 1085.25,258.58 1085.50,258.65 1085.75,258.73 1086.00,258.81 1086.25,258.88 1086.50,258.95 1086.75,259.03 1087.00,259.10 1087.25,259.17 1087.50,259.24 1087.75,259.32 1088.00,259.39 1088.25,259.45 1088.50,259.52 1088.75,259.59 1089.00,259.66 1089.25,259.73 1089.50,259.79 1089.75,259.86 1090.00,259.92 1090.25,259.99 1090.50,260.05 1090.75,260.12 1091.00,260.18 1091.25,260.24 1091.50,260.30 1091.75,260.36 1092.00,260.42 1092.25,260.48 1092.50,260.54 1092.75,260.60 1093.00,260.65 1093.25,260.71 1093.50,260.77 1093.75,260.82 1094.00,260.88 1094.25,260.93 1094.50,260.98 1094.75,261.04 1095.00,261.09" fill="none" stroke="#f0622a" stroke-width="2" stroke-linejoin="round"/><polyline points="1032.00,263.74 1032.25,263.73 1032.50,263.72 1032.75,263.71 1033.00,263.70 1033.25,263.69 1033.50,263.68 1033.75,263.67 1034.00,263.66 1034.25,263.65 1034.50,263.64 1034.75,263.62 1035.00,263.61 1035.25,263.60 1035.50,263.59 1035.75,263.57 1036.00,263.56 1036.25,263.55 1036.50,263.53 1036.75,263.52 1037.00,263.50 1037.25,263.49 1037.50,263.47 1037.75,263.46 1038.00,263.44 1038.25,263.42 1038.50,263.40 1038.75,263.39 1039.00,263.37 1039.25,263.35 1039.50,263.33 1039.75,263.31 1040.00,263.29 1040.25,263.27 1040.50,263.25 1040.75,263.23 1041.00,263.20 1041.25,263.18 1041.50,263.16 1041.75,263.13 1042.00,263.11 1042.25,263.09 1042.50,263.06 1042.75,263.03 1043.00,263.01 1043.25,262.98 1043.50,262.95 1043.75,262.93 1044.00,262.90 1044.25,262.87 1044.50,262.84 1044.75,262.81 1045.00,262.78 1045.25,262.75 1045.50,262.71 1045.75,262.68 1046.00,262.65 1046.25,262.61 1046.50,262.58 1046.75,262.54 1047.00,262.51 1047.25,262.47 1047.50,262.43 1047.75,262.39 1048.00,262.36 1048.25,262.32 1048.50,262.28 1048.75,262.24 1049.00,262.19 1049.25,262.15 1049.50,262.11 1049.75,262.07 1050.00,262.02 1050.25,261.98 1050.50,261.93 1050.75,261.88 1051.00,261.84 1051.25,261.79 1051.50,261.74 1051.75,261.69 1052.00,261.64 1052.25,261.59 1052.50,261.54 1052.75,261.49 1053.00,261.44 1053.25,261.38 1053.50,261.33 1053.75,261.27 1054.00,261.22 1054.25,261.16 1054.50,261.11 1054.75,261.05 1055.00,260.99 1055.25,260.93 1055.50,260.87 1055.75,260.81 1056.00,260.75 1056.25,260.69 1056.50,260.63 1056.75,260.57 1057.00,260.50 1057.25,260.44 1057.50,260.38 1057.75,260.31 1058.00,260.25 1058.25,260.18 1058.50,260.11 1058.75,260.05 1059.00,259.98 1059.25,259.91 1059.50,259.84 1059.75,259.77 1060.00,259.70 1060.25,259.63 1060.50,259.56 1060.75,259.49 1061.00,259.42 1061.25,259.35 1061.50,259.28 1061.75,259.21 1062.00,259.13 1062.25,259.06 1062.50,258.99 1062.75,258.91 1063.00,258.84 1063.25,258.76 1063.50,258.69 1063.75,258.61 1064.00,258.54 1064.25,258.46 1064.50,258.39 1064.75,258.31 1065.00,258.24 1065.25,258.16 1065.50,258.09 1065.75,258.01 1066.00,257.93 1066.25,257.86 1066.50,257.78 1066.75,257.71 1067.00,257.63 1067.25,257.56 1067.50,257.48 1067.75,257.41 1068.00,257.33 1068.25,257.26 1068.50,257.18 1068.75,257.11 1069.00,257.03 1069.25,256.96 1069.50,256.88 1069.75,256.81 1070.00,256.74 1070.25,256.67 1070.50,256.59 1070.75,256.52 1071.00,256.45 1071.25,256.38 1071.50,256.31 1071.75,256.24 1072.00,256.17 1072.25,256.10 1072.50,256.04 1072.75,255.97 1073.00,255.90 1073.25,255.84 1073.50,255.77 1073.75,255.71 1074.00,255.65 1074.25,255.59 1074.50,255.52 1074.75,255.46 1075.00,255.40 1075.25,255.35 1075.50,255.29 1075.75,255.23 1076.00,255.18 1076.25,255.12 1076.50,255.07 1076.75,255.01 1077.00,254.96 1077.25,254.91 1077.50,254.86 1077.75,254.82 1078.00,254.77 1078.25,254.72 1078.50,254.68 1078.75,254.64 1079.00,254.59 1079.25,254.55 1079.50,254.51 1079.75,254.48 1080.00,254.44 1080.25,254.40 1080.50,254.37 1080.75,254.34 1081.00,254.31 1081.25,254.28 1081.50,254.25 1081.75,254.22 1082.00,254.20 1082.25,254.17 1082.50,254.15 1082.75,254.13 1083.00,254.11 1083.25,254.09 1083.50,254.08 1083.75,254.06 1084.00,254.05 1084.25,254.04 1084.50,254.03 1084.75,254.02 1085.00,254.01 1085.25,254.01 1085.50,254.00 1085.75,254.00 1086.00,254.00 1086.25,254.00 1086.50,254.00 1086.75,254.01 1087.00,254.01 1087.25,254.02 1087.50,254.03 1087.75,254.04 1088.00,254.05 1088.25,254.06 1088.50,254.08 1088.75,254.09 1089.00,254.11 1089.25,254.13 1089.50,254.15 1089.75,254.17 1090.00,254.20 1090.25,254.22 1090.50,254.25 1090.75,254.28 1091.00,254.31 1091.25,254.34 1091.50,254.37 1091.75,254.40 1092.00,254.44 1092.25,254.48 1092.50,254.51 1092.75,254.55 1093.00,254.59 1093.25,254.63 1093.50,254.67 1093.75,254.70 1094.00,254.68 1094.25,254.48 1094.50,253.79 1094.75,251.84 1095.00,247.19 1095.25,237.59 1095.50,220.42 1095.75,194.05 1096.00,159.78 1096.25,123.13 1096.50,93.14 1096.75,78.91 1097.00,85.24 1097.25,109.98 1097.50,145.28 1097.75,181.53 1098.00,211.55 1098.25,232.43 1098.50,244.88 1098.75,251.32 1099.00,254.24 1099.25,255.43 1099.50,255.88 1099.75,256.06 1100.00,256.16 1100.25,256.24 1100.50,256.31 1100.75,256.38 1101.00,256.45 1101.25,256.52 1101.50,256.59 1101.75,256.67 1102.00,256.74 1102.25,256.81 1102.50,256.88 1102.75,256.96 1103.00,257.03 1103.25,257.11 1103.50,257.18 1103.75,257.26 1104.00,257.33 1104.25,257.41 1104.50,257.48 1104.75,257.56 1105.00,257.63 1105.25,257.71 1105.50,257.78 1105.75,257.86 1106.00,257.93 1106.25,258.01 1106.50,258.09 1106.75,258.16 1107.00,258.24 1107.25,258.31 1107.50,258.39 1107.75,258.46 1108.00,258.54 1108.25,258.61 1108.50,258.69 1108.75,258.76 1109.00,258.84 1109.25,258.91 1109.50,258.99 1109.75,259.06 1110.00,259.13 1110.25,259.21 1110.50,259.28 1110.75,259.35 1111.00,259.42 1111.25,259.49 1111.50,259.56 1111.75,259.63 1112.00,259.70 1112.25,259.77 1112.50,259.84 1112.75,259.91 1113.00,259.98 1113.25,260.05 1113.50,260.11 1113.75,260.18 1114.00,260.25 1114.25,260.31 1114.50,260.38 1114.75,260.44 1115.00,260.50 1115.25,260.57 1115.50,260.63 1115.75,260.69 1116.00,260.75 1116.25,260.81 1116.50,260.87 1116.75,260.93 1117.00,260.99 1117.25,261.05 1117.50,261.11 1117.75,261.16 1118.00,261.22 1118.25,261.27 1118.50,261.33 1118.75,261.38 1119.00,261.44 1119.25,261.49 1119.50,261.54 1119.75,261.59 1120.00,261.64 1120.25,261.69 1120.50,261.74 1120.75,261.79 1121.00,261.84 1121.25,261.88 1121.50,261.93 1121.75,261.98 1122.00,262.02 1122.25,262.07 1122.50,262.11 1122.75,262.15 1123.00,262.19 1123.25,262.24 1123.50,262.28 1123.75,262.32 1124.00,262.36 1124.25,262.39 1124.50,262.43 1124.75,262.47 1125.00,262.51 1125.25,262.54 1125.50,262.58 1125.75,262.61 1126.00,262.65 1126.25,262.68 1126.50,262.71 1126.75,262.75 1127.00,262.78 1127.25,262.81 1127.50,262.84 1127.75,262.87 1128.00,262.90 1128.25,262.93 1128.50,262.95 1128.75,262.98 1129.00,263.01 1129.25,263.03 1129.50,263.06 1129.75,263.09 1130.00,263.11 1130.25,263.13 1130.50,263.16 1130.75,263.18 1131.00,263.20 1131.25,263.23 1131.50,263.25 1131.75,263.27 1132.00,263.29" fill="none" stroke="#e6222a" stroke-width="2" stroke-linejoin="round"/><polyline points="1092.00,264.00 1092.25,264.00 1092.50,264.00 1092.75,264.00 1093.00,264.00 1093.25,264.00 1093.50,264.00 1093.75,264.00 1094.00,264.00 1094.25,264.00 1094.50,264.00 1094.75,264.00 1095.00,264.00 1095.25,264.00 1095.50,264.00 1095.75,264.00 1096.00,264.00 1096.25,264.00 1096.50,264.00 1096.75,264.00 1097.00,264.00 1097.25,264.00 1097.50,264.00 1097.75,264.00 1098.00,264.00 1098.25,264.00 1098.50,263.99 1098.75,263.99 1099.00,263.99 1099.25,263.99 1099.50,263.99 1099.75,263.99 1100.00,263.99 1100.25,263.99 1100.50,263.99 1100.75,263.99 1101.00,263.99 1101.25,263.99 1101.50,263.99 1101.75,263.99 1102.00,263.99 1102.25,263.99 1102.50,263.98 1102.75,263.98 1103.00,263.98 1103.25,263.98 1103.50,263.98 1103.75,263.98 1104.00,263.98 1104.25,263.98 1104.50,263.97 1104.75,263.97 1105.00,263.97 1105.25,263.97 1105.50,263.97 1105.75,263.97 1106.00,263.96 1106.25,263.96 1106.50,263.96 1106.75,263.96 1107.00,263.95 1107.25,263.95 1107.50,263.95 1107.75,263.95 1108.00,263.94 1108.25,263.94 1108.50,263.94 1108.75,263.93 1109.00,263.93 1109.25,263.92 1109.50,263.92 1109.75,263.92 1110.00,263.91 1110.25,263.91 1110.50,263.90 1110.75,263.90 1111.00,263.89 1111.25,263.89 1111.50,263.88 1111.75,263.87 1112.00,263.87 1112.25,263.86 1112.50,263.86 1112.75,263.85 1113.00,263.84 1113.25,263.83 1113.50,263.83 1113.75,263.82 1114.00,263.81 1114.25,263.80 1114.50,263.79 1114.75,263.78 1115.00,263.77 1115.25,263.76 1115.50,263.75 1115.75,263.74 1116.00,263.73 1116.25,263.72 1116.50,263.71 1116.75,263.69 1117.00,263.68 1117.25,263.67 1117.50,263.66 1117.75,263.64 1118.00,263.63 1118.25,263.61 1118.50,263.60 1118.75,263.58 1119.00,263.57 1119.25,263.55 1119.50,263.54 1119.75,263.52 1120.00,263.50 1120.25,263.48 1120.50,263.47 1120.75,263.45 1121.00,263.43 1121.25,263.41 1121.50,263.39 1121.75,263.37 1122.00,263.35 1122.25,263.33 1122.50,263.31 1122.75,263.29 1123.00,263.27 1123.25,263.24 1123.50,263.22 1123.75,263.20 1124.00,263.18 1124.25,263.15 1124.50,263.13 1124.75,263.11 1125.00,263.08 1125.25,263.06 1125.50,263.04 1125.75,263.01 1126.00,262.99 1126.25,262.96 1126.50,262.94 1126.75,262.91 1127.00,262.89 1127.25,262.86 1127.50,262.84 1127.75,262.81 1128.00,262.79 1128.25,262.76 1128.50,262.74 1128.75,262.71 1129.00,262.69 1129.25,262.66 1129.50,262.64 1129.75,262.61 1130.00,262.59 1130.25,262.56 1130.50,262.54 1130.75,262.51 1131.00,262.49 1131.25,262.47 1131.50,262.44 1131.75,262.42 1132.00,262.40 1132.25,262.36 1132.50,262.29 1132.75,262.10 1133.00,261.60 1133.25,260.44 1133.50,258.10 1133.75,254.22 1134.00,248.94 1134.25,243.33 1134.50,239.17 1134.75,238.07 1135.00,240.50 1135.25,245.43 1135.50,251.06 1135.75,255.83 1136.00,259.03 1136.25,260.81 1136.50,261.62 1136.75,261.93 1137.00,262.02 1137.25,262.04 1137.50,262.04 1137.75,262.03 1138.00,262.03 1138.25,262.02 1138.50,262.01 1138.75,262.00 1139.00,261.95 1139.25,261.79 1139.50,261.29 1139.75,259.88 1140.00,256.36 1140.25,248.72 1140.50,234.29 1140.75,210.75 1141.00,177.98 1141.25,139.91 1141.50,104.74 1141.75,82.44 1142.00,80.26 1142.25,98.96 1142.50,132.36 1142.75,170.63 1143.00,204.93 1143.25,230.43 1143.50,246.55 1143.75,255.33 1144.00,259.50 1144.25,261.23 1144.50,261.87 1144.75,262.08 1145.00,262.15 1145.25,262.18 1145.50,262.20 1145.75,262.22 1146.00,262.23 1146.25,262.25 1146.50,262.27 1146.75,262.27 1147.00,262.23 1147.25,262.07 1147.50,261.65 1147.75,260.74 1148.00,259.16 1148.25,256.89 1148.50,254.34 1148.75,252.28 1149.00,251.50 1149.25,252.33 1149.50,254.44 1149.75,257.03 1150.00,259.34 1150.25,260.98 1150.50,261.93 1150.75,262.40 1151.00,262.60 1151.25,262.69 1151.50,262.73 1151.75,262.76 1152.00,262.79 1152.25,262.81 1152.50,262.84 1152.75,262.86 1153.00,262.89 1153.25,262.91 1153.50,262.94 1153.75,262.96 1154.00,262.99 1154.25,263.01 1154.50,263.04 1154.75,263.06 1155.00,263.08 1155.25,263.11 1155.50,263.13 1155.75,263.15 1156.00,263.18 1156.25,263.20 1156.50,263.22 1156.75,263.24 1157.00,263.27 1157.25,263.29 1157.50,263.31 1157.75,263.33 1158.00,263.35 1158.25,263.37 1158.50,263.39 1158.75,263.41 1159.00,263.43 1159.25,263.45 1159.50,263.47 1159.75,263.48 1160.00,263.50 1160.25,263.52 1160.50,263.54 1160.75,263.55 1161.00,263.57 1161.25,263.58 1161.50,263.60 1161.75,263.61 1162.00,263.63 1162.25,263.64 1162.50,263.66 1162.75,263.67 1163.00,263.68 1163.25,263.69 1163.50,263.71 1163.75,263.72 1164.00,263.73 1164.25,263.74 1164.50,263.75 1164.75,263.76 1165.00,263.77 1165.25,263.78 1165.50,263.79 1165.75,263.80 1166.00,263.81 1166.25,263.82 1166.50,263.83 1166.75,263.83 1167.00,263.84 1167.25,263.85 1167.50,263.86 1167.75,263.86 1168.00,263.87 1168.25,263.87 1168.50,263.88 1168.75,263.89 1169.00,263.89 1169.25,263.90 1169.50,263.90 1169.75,263.91 1170.00,263.91 1170.25,263.92 1170.50,263.92 1170.75,263.92 1171.00,263.93 1171.25,263.93 1171.50,263.94 1171.75,263.94 1172.00,263.94 1172.25,263.95 1172.50,263.95 1172.75,263.95 1173.00,263.95 1173.25,263.96 1173.50,263.96 1173.75,263.96 1174.00,263.96 1174.25,263.97 1174.50,263.97 1174.75,263.97 1175.00,263.97 1175.25,263.97 1175.50,263.97 1175.75,263.98 1176.00,263.98 1176.25,263.98 1176.50,263.98 1176.75,263.98 1177.00,263.98" fill="none" stroke="#e2141f" stroke-width="2" stroke-linejoin="round"/>
<defs><linearGradient id="nwG" x1="0" y1="0" x2="0" y2="1"><stop offset="0" stop-color="#fbc74a"/><stop offset="0.35" stop-color="#f7b21c"/><stop offset="0.8" stop-color="#eea00e"/><stop offset="1" stop-color="#e08d0c"/></linearGradient></defs><rect x="1287.3" y="4.3" width="701.4" height="369.5" fill="#fff" stroke="#a8a8a8" stroke-width="1.6"/><line x1="1521" y1="4.3" x2="1521" y2="373.8" stroke="#a8a8a8" stroke-width="1.6"/><line x1="1755" y1="4.3" x2="1755" y2="373.8" stroke="#a8a8a8" stroke-width="1.6"/><line x1="1288" y1="123" x2="1988" y2="123" stroke="#6aa8dc" stroke-width="1.3" stroke-dasharray="6,4"/><line x1="1288" y1="312" x2="1988" y2="312" stroke="#6aa8dc" stroke-width="1.3" stroke-dasharray="6,4"/><polygon points="1590.2,95.7 1590.2,96.2 1594.0,99.8 1597.7,103.2 1601.4,106.4 1605.2,109.4 1608.9,112.1 1612.7,114.5 1616.4,116.6 1620.2,118.3 1623.9,119.5 1627.7,120.3 1631.4,120.7 1635.2,120.6 1638.9,119.9 1642.6,118.9 1646.4,117.3 1650.1,115.4 1653.9,113.2 1657.6,110.6 1661.4,107.7 1665.1,104.6 1668.9,101.2 1672.6,97.7 1672.6,95.7" fill="#b4262b"/><polygon points="1801.7,69.3 1801.7,72.1 1805.5,76.3 1809.2,80.5 1813.0,84.6 1816.7,88.6 1820.4,92.6 1824.2,96.4 1827.9,100.2 1831.7,103.7 1835.4,107.1 1839.2,110.3 1842.9,113.3 1846.6,115.9 1850.4,118.2 1854.1,120.0 1857.9,121.3 1861.6,122.1 1865.4,122.3 1869.1,121.9 1872.8,120.9 1876.6,119.4 1880.3,117.4 1884.1,115.0 1887.8,112.3 1891.6,109.2 1895.3,106.0 1899.0,102.5 1902.8,98.9 1906.5,95.1 1910.3,91.2 1914.0,87.2 1917.8,83.2 1921.5,79.0 1925.2,74.8 1929.0,70.6 1929.0,69.3" fill="#e30a17"/><polyline points="1288.9,17.6 1292.6,23.0 1296.4,28.2 1300.1,33.5 1303.9,38.6 1307.6,43.7 1311.4,48.7 1315.1,53.6 1318.8,58.4 1322.6,63.2 1326.3,67.8 1330.1,72.3 1333.8,76.6 1337.6,80.9 1341.3,85.0 1345.1,88.9 1348.8,92.7 1352.5,96.3 1356.3,99.6 1360.0,102.8 1363.8,105.8 1367.5,108.5 1371.3,110.9 1375.0,113.1 1378.7,115.0 1382.5,116.6 1386.2,117.9 1390.0,118.8 1393.7,119.5 1397.5,119.8 1401.2,119.7 1404.9,119.4 1408.7,118.7 1412.4,117.7 1416.2,116.3 1419.9,114.7 1423.7,112.7 1427.4,110.5 1431.1,108.0 1434.9,105.3 1438.6,102.3 1442.4,99.1 1446.1,95.7 1449.9,92.0 1453.6,88.2 1457.3,84.3 1461.1,80.2 1464.8,75.9 1468.6,71.5 1472.3,67.0 1476.1,62.3 1479.8,57.6 1483.6,52.7 1487.3,47.8 1491.0,42.8 1494.8,37.7 1498.5,32.6 1502.3,27.3 1506.0,22.0 1509.8,16.7 1513.5,11.3" fill="none" stroke="#333" stroke-width="2.8" stroke-linecap="round"/><polyline points="1522.8,18.0 1526.5,22.7 1530.3,27.4 1534.0,32.0 1537.8,36.6 1541.5,41.2 1545.3,45.7 1549.0,50.2 1552.8,54.7 1556.5,59.2 1560.2,63.6 1564.0,67.9 1567.7,72.2 1571.5,76.4 1575.2,80.6 1579.0,84.6 1582.7,88.6 1586.5,92.5 1590.2,96.2 1594.0,99.8 1597.7,103.2 1601.4,106.4 1605.2,109.4 1608.9,112.1 1612.7,114.5 1616.4,116.6 1620.2,118.3 1623.9,119.5 1627.7,120.3 1631.4,120.7 1635.2,120.6 1638.9,119.9 1642.6,118.9 1646.4,117.3 1650.1,115.4 1653.9,113.2 1657.6,110.6 1661.4,107.7 1665.1,104.6 1668.9,101.2 1672.6,97.7 1676.3,94.1 1680.1,90.3 1683.8,86.3 1687.6,82.3 1691.3,78.2 1695.1,74.0 1698.8,69.7 1702.6,65.4 1706.3,61.0 1710.0,56.6 1713.8,52.1 1717.5,47.6 1721.3,43.1 1725.0,38.5 1728.8,33.9 1732.5,29.3 1736.3,24.7 1740.0,20.0 1743.8,15.3 1747.5,10.6" fill="none" stroke="#333" stroke-width="2.8" stroke-linecap="round"/><polyline points="1756.8,19.1 1760.5,23.6 1764.3,28.1 1768.0,32.6 1771.8,37.1 1775.5,41.6 1779.3,46.0 1783.0,50.4 1786.7,54.8 1790.5,59.2 1794.2,63.5 1798.0,67.8 1801.7,72.1 1805.5,76.3 1809.2,80.5 1813.0,84.6 1816.7,88.6 1820.4,92.6 1824.2,96.4 1827.9,100.2 1831.7,103.7 1835.4,107.1 1839.2,110.3 1842.9,113.3 1846.6,115.9 1850.4,118.2 1854.1,120.0 1857.9,121.3 1861.6,122.1 1865.4,122.3 1869.1,121.9 1872.8,120.9 1876.6,119.4 1880.3,117.4 1884.1,115.0 1887.8,112.3 1891.6,109.2 1895.3,106.0 1899.0,102.5 1902.8,98.9 1906.5,95.1 1910.3,91.2 1914.0,87.2 1917.8,83.2 1921.5,79.0 1925.2,74.8 1929.0,70.6 1932.7,66.3 1936.5,62.0 1940.2,57.7 1944.0,53.3 1947.7,48.9 1951.5,44.4 1955.2,40.0 1958.9,35.5 1962.7,31.1 1966.4,26.6 1970.2,22.1 1973.9,17.5 1977.7,13.0 1981.4,8.5" fill="none" stroke="#333" stroke-width="2.8" stroke-linecap="round"/><path d="M1288.2,372.7 C1294.8,367.7 1314.2,351.6 1328.0,342.6 C1341.8,333.7 1358.7,324.1 1371.0,319.0 C1383.3,313.9 1391.4,312.4 1402.1,312.0 C1412.8,311.6 1422.7,312.5 1435.4,316.9 C1448.1,321.3 1464.2,330.4 1478.4,338.3 C1492.6,346.2 1513.3,359.8 1520.3,364.1" fill="none" stroke="#333" stroke-width="2.8" stroke-linecap="round"/><path d="M1521.4,372.8 C1527.5,368.8 1544.9,357.1 1558.0,349.0 C1571.1,340.9 1586.9,330.2 1600.0,324.0 C1613.1,317.8 1623.4,312.5 1636.4,312.0 C1649.5,311.5 1664.5,315.7 1678.3,321.2 C1692.1,326.7 1706.5,337.5 1719.2,344.8 C1731.9,352.1 1748.7,361.8 1754.6,365.2" fill="none" stroke="#333" stroke-width="2.8" stroke-linecap="round"/><path d="M1755.4,372.8 C1761.2,369.3 1777.6,360.0 1790.0,352.0 C1802.4,344.0 1816.6,331.8 1830.0,325.0 C1843.4,318.2 1853.7,310.7 1870.4,311.5 C1887.2,312.3 1915.6,323.9 1930.5,329.8 C1945.4,335.7 1950.5,341.1 1960.0,347.0 C1969.5,352.9 1982.9,362.2 1987.5,365.2" fill="none" stroke="#333" stroke-width="2.8" stroke-linecap="round"/><text x="1392" y="74" font-size="24" fill="#2a2a2a" text-anchor="middle">CB</text><text x="1627.5" y="67.5" font-size="24" fill="#2a2a2a" text-anchor="middle">CB</text><text x="1863.3" y="53.8" font-size="24" fill="#2a2a2a" text-anchor="middle">CB</text><text x="1402.6" y="352.3" font-size="23.5" fill="#2a2a2a" text-anchor="middle">VB</text><text x="1638" y="352.3" font-size="23.5" fill="#2a2a2a" text-anchor="middle">VB</text><text x="1871.4" y="352.3" font-size="23.5" fill="#2a2a2a" text-anchor="middle">VB</text><rect x="1316.8" y="254.5" width="139.7" height="36.1" fill="#9dc3e8"/><rect x="1564" y="258.4" width="129" height="34.4" fill="#9dc3e8"/><rect x="1784.4" y="261.4" width="152.1" height="10" fill="#9dc3e8"/><rect x="1784.4" y="271.3" width="152.1" height="35.9" fill="#ffe800"/><rect x="1335.5" y="225.5" width="103.208" height="28.599999999999994" rx="7.6" fill="url(#nwG)"/><ellipse cx="1438.7" cy="239.8" rx="6.3" ry="14.3" fill="#f6c65a"/><rect x="1580.5" y="231" width="96.20399999999991" height="26.80000000000001" rx="7.1" fill="url(#nwG)"/><ellipse cx="1676.7" cy="244.4" rx="5.9" ry="13.4" fill="#f6c65a"/><rect x="1808" y="235.2" width="103.92399999999991" height="25.80000000000001" rx="6.8" fill="url(#nwG)"/><ellipse cx="1911.9" cy="248.1" rx="5.7" ry="12.9" fill="#f6c65a"/><text x="1385.6" y="246.5" font-size="17.5" fill="#4a3506" text-anchor="middle">CdS NW</text><text x="1632" y="251.5" font-size="17.5" fill="#4a3506" text-anchor="middle">CdS NW</text><text x="1862" y="254.5" font-size="17.5" fill="#4a3506" text-anchor="middle">CdS NW</text><text x="1384" y="279" font-size="17.5" fill="#3d5a82" text-anchor="middle">SiO<tspan font-size="12" dy="4">2</tspan></text><text x="1627" y="283" font-size="17.5" fill="#3d5a82" text-anchor="middle">SiO<tspan font-size="12" dy="4">2</tspan></text><text x="1866" y="300.5" font-size="16.5" fill="#5a5010" text-anchor="middle">Au film</text><path d="M1816.6,252.4 Q1820,268 1844.6,271.3 Q1822,272 1816.6,280.4 Z" fill="#e8341e"/><line x1="1846.7" y1="266.8" x2="1877" y2="266.8" stroke="#e02828" stroke-width="2"/><path d="M1883,266.8 L1876,263.5 L1876,270.1 Z" fill="#e02828"/><text x="1885" y="272" font-size="13.5" fill="#2a4a82">SPP</text><path d="M1401.6,124.5 L1396.1,134.5 L1401.6,132.0 L1407.1,134.5 Z" fill="#333"/><rect x="1400.3" y="136.5" width="3.0" height="3.0" fill="#333"/><rect x="1400.3" y="144.3" width="3.0" height="3.0" fill="#333"/><rect x="1400.3" y="152.1" width="3.0" height="3.0" fill="#333"/><rect x="1400.3" y="159.9" width="3.0" height="3.0" fill="#333"/><rect x="1400.3" y="167.7" width="3.0" height="3.0" fill="#333"/><rect x="1400.3" y="175.5" width="3.0" height="3.0" fill="#333"/><rect x="1400.3" y="183.3" width="3.0" height="3.0" fill="#333"/><rect x="1400.3" y="191.1" width="3.0" height="3.0" fill="#333"/><rect x="1400.3" y="198.9" width="3.0" height="3.0" fill="#333"/><rect x="1400.3" y="206.7" width="3.0" height="3.0" fill="#333"/><rect x="1400.3" y="214.5" width="3.0" height="3.0" fill="#333"/><rect x="1400.3" y="222.3" width="3.0" height="3.0" fill="#333"/><rect x="1400.3" y="230.1" width="3.0" height="3.0" fill="#333"/><rect x="1400.3" y="237.9" width="3.0" height="3.0" fill="#333"/><rect x="1400.3" y="245.7" width="3.0" height="3.0" fill="#333"/><rect x="1400.3" y="253.5" width="3.0" height="3.0" fill="#333"/><rect x="1400.3" y="261.3" width="3.0" height="3.0" fill="#333"/><rect x="1400.3" y="269.1" width="3.0" height="3.0" fill="#333"/><rect x="1400.3" y="276.9" width="3.0" height="3.0" fill="#333"/><rect x="1400.3" y="284.7" width="3.0" height="3.0" fill="#333"/><rect x="1400.3" y="292.5" width="3.0" height="3.0" fill="#333"/><path d="M1402.5,310.5 L1397.0,300.5 L1402.5,303.0 L1408.0,300.5 Z" fill="#333"/><path d="M1678.6,99.5 L1673.1,109.5 L1678.6,107.0 L1684.1,109.5 Z" fill="#e8141e"/><rect x="1677.1" y="111.5" width="3.0" height="3.0" fill="#e8141e"/><rect x="1677.1" y="119.3" width="3.0" height="3.0" fill="#e8141e"/><rect x="1677.1" y="127.1" width="3.0" height="3.0" fill="#e8141e"/><rect x="1677.1" y="134.9" width="3.0" height="3.0" fill="#e8141e"/><rect x="1677.1" y="142.7" width="3.0" height="3.0" fill="#e8141e"/><rect x="1677.1" y="150.5" width="3.0" height="3.0" fill="#e8141e"/><rect x="1677.1" y="158.3" width="3.0" height="3.0" fill="#e8141e"/><rect x="1677.1" y="166.1" width="3.0" height="3.0" fill="#e8141e"/><rect x="1677.1" y="173.9" width="3.0" height="3.0" fill="#e8141e"/><rect x="1677.1" y="181.7" width="3.0" height="3.0" fill="#e8141e"/><rect x="1677.1" y="189.5" width="3.0" height="3.0" fill="#e8141e"/><rect x="1677.1" y="197.3" width="3.0" height="3.0" fill="#e8141e"/><rect x="1677.1" y="205.1" width="3.0" height="3.0" fill="#e8141e"/><rect x="1677.1" y="212.9" width="3.0" height="3.0" fill="#e8141e"/><rect x="1677.1" y="220.7" width="3.0" height="3.0" fill="#e8141e"/><rect x="1677.1" y="228.5" width="3.0" height="3.0" fill="#e8141e"/><rect x="1677.1" y="236.3" width="3.0" height="3.0" fill="#e8141e"/><rect x="1677.1" y="244.1" width="3.0" height="3.0" fill="#e8141e"/><rect x="1677.1" y="251.9" width="3.0" height="3.0" fill="#e8141e"/><rect x="1677.1" y="259.7" width="3.0" height="3.0" fill="#e8141e"/><rect x="1677.1" y="267.5" width="3.0" height="3.0" fill="#e8141e"/><rect x="1677.1" y="275.3" width="3.0" height="3.0" fill="#e8141e"/><rect x="1677.1" y="283.1" width="3.0" height="3.0" fill="#e8141e"/><rect x="1677.1" y="290.9" width="3.0" height="3.0" fill="#e8141e"/><rect x="1677.1" y="298.7" width="3.0" height="3.0" fill="#e8141e"/><rect x="1677.1" y="306.5" width="3.0" height="3.0" fill="#e8141e"/><path d="M1678.4,321.5 L1672.9,311.5 L1678.4,314.0 L1683.9,311.5 Z" fill="#e8141e"/><path d="M1932.6,76 L1927.1,86 L1932.6,83.5 L1938.1,86 Z" fill="#e8141e"/><rect x="1930.9" y="87.5" width="3.0" height="3.0" fill="#e8141e"/><rect x="1930.9" y="95.3" width="3.0" height="3.0" fill="#e8141e"/><rect x="1930.9" y="103.1" width="3.0" height="3.0" fill="#e8141e"/><rect x="1930.9" y="110.9" width="3.0" height="3.0" fill="#e8141e"/><rect x="1930.9" y="118.7" width="3.0" height="3.0" fill="#e8141e"/><rect x="1930.9" y="126.5" width="3.0" height="3.0" fill="#e8141e"/><rect x="1930.9" y="134.3" width="3.0" height="3.0" fill="#e8141e"/><rect x="1930.9" y="142.1" width="3.0" height="3.0" fill="#e8141e"/><rect x="1930.9" y="149.9" width="3.0" height="3.0" fill="#e8141e"/><rect x="1930.9" y="157.7" width="3.0" height="3.0" fill="#e8141e"/><rect x="1930.9" y="165.5" width="3.0" height="3.0" fill="#e8141e"/><rect x="1930.9" y="173.3" width="3.0" height="3.0" fill="#e8141e"/><rect x="1930.9" y="181.1" width="3.0" height="3.0" fill="#e8141e"/><rect x="1930.9" y="188.9" width="3.0" height="3.0" fill="#e8141e"/><rect x="1930.9" y="196.7" width="3.0" height="3.0" fill="#e8141e"/><rect x="1930.9" y="204.5" width="3.0" height="3.0" fill="#e8141e"/><rect x="1930.9" y="212.3" width="3.0" height="3.0" fill="#e8141e"/><rect x="1930.9" y="220.1" width="3.0" height="3.0" fill="#e8141e"/><rect x="1930.9" y="227.9" width="3.0" height="3.0" fill="#e8141e"/><rect x="1930.9" y="235.7" width="3.0" height="3.0" fill="#e8141e"/><rect x="1930.9" y="243.5" width="3.0" height="3.0" fill="#e8141e"/><rect x="1930.9" y="251.3" width="3.0" height="3.0" fill="#e8141e"/><rect x="1930.9" y="259.1" width="3.0" height="3.0" fill="#e8141e"/><rect x="1930.9" y="266.9" width="3.0" height="3.0" fill="#e8141e"/><rect x="1930.9" y="274.7" width="3.0" height="3.0" fill="#e8141e"/><rect x="1930.9" y="282.5" width="3.0" height="3.0" fill="#e8141e"/><rect x="1930.9" y="290.3" width="3.0" height="3.0" fill="#e8141e"/><rect x="1930.9" y="298.1" width="3.0" height="3.0" fill="#e8141e"/><rect x="1930.9" y="305.9" width="3.0" height="3.0" fill="#e8141e"/><rect x="1930.9" y="313.7" width="3.0" height="3.0" fill="#e8141e"/><path d="M1931.6,330 L1926.1,320 L1931.6,322.5 L1937.1,320 Z" fill="#e8141e"/><text x="1360" y="150.5" font-size="21" fill="#333">E<tspan font-size="14.5" dy="4.5">g</tspan></text><text x="1576.5" y="148.5" font-size="20.5" fill="#e8262f">E<tspan font-size="14.5" dy="4.5">g</tspan><tspan dy="-4.5"> + </tspan><tspan font-size="12.5" dy="-5">&#916;</tspan><tspan font-size="13.5" dy="10" dx="2">BM</tspan></text><text x="1817.5" y="144.5" font-size="20.5" fill="#e8262f">E<tspan font-size="14.5" dy="4.5">g</tspan><tspan dy="-4.5"> + </tspan><tspan font-size="12.5" dy="-5">&#916;</tspan><tspan font-size="13.5" dy="10" dx="2">BM&#8217;</tspan></text><text x="1792.6" y="165" font-size="17.5" fill="#e8262f" textLength="136" lengthAdjust="spacingAndGlyphs">(SPP enhanced)</text><polyline points="1299.0,177.0 1297.9,179.1 1296.8,181.2 1295.8,183.2 1295.0,185.1 1294.4,186.9 1294.0,188.3 1295.7,188.3 1297.6,188.0 1299.6,187.6 1301.8,187.1 1304.1,186.6 1306.4,186.0 1308.8,185.3 1311.0,184.8 1313.2,184.3 1315.2,184.0 1317.0,183.8 1318.3,184.0 1317.8,185.6 1317.1,187.4 1316.2,189.3 1315.2,191.4 1314.1,193.5 1313.0,195.6 1311.9,197.7 1310.8,199.8 1309.9,201.8 1309.1,203.6 1308.5,205.3 1308.7,206.4 1310.4,206.3 1312.3,206.0 1314.4,205.6 1316.6,205.1 1318.9,204.5 1321.3,203.9 1323.6,203.3 1325.9,202.7 1328.0,202.3 1329.9,202.0 1331.7,201.8 1332.4,202.5 1331.9,204.1 1331.2,205.9 1330.3,207.9 1329.2,209.9 1328.1,212.1 1327.0,214.2 1325.9,216.3 1324.8,218.4 1323.9,220.3 1323.2,222.1 1322.7,223.8 1323.4,224.4 1325.2,224.3 1327.1,224.0 1329.2,223.5 1331.5,223.0 1333.8,222.4 1336.2,221.8 1338.5,221.2 1340.7,220.7 1342.8,220.2 1344.7,220.0 1346.4,219.8 1346.6,220.9 1346.0,222.6 1345.2,224.5 1344.3,226.5 1343.2,228.5 1342.1,230.6 1341.0,232.8 1339.9,234.9 1338.9,236.9 1338.0,238.8 1337.3,240.6 1341.0,245.3" fill="none" stroke="#a040b0" stroke-width="2" stroke-linejoin="round" stroke-linecap="round"/><path d="M1342.0,246.5 L1335.9,243.0 L1340.0,239.8 Z" fill="#a040b0"/><polyline points="1424.7,228.8 1427.0,229.5 1429.3,230.2 1431.5,230.8 1433.6,231.2 1435.5,231.5 1437.1,231.6 1436.9,229.9 1436.5,228.0 1435.9,226.0 1435.2,223.9 1434.4,221.6 1433.5,219.3 1432.7,217.0 1431.9,214.8 1431.2,212.6 1430.6,210.6 1430.2,208.8 1430.1,207.2 1431.8,207.3 1433.7,207.6 1435.7,208.1 1437.9,208.7 1440.2,209.3 1442.6,210.1 1444.9,210.8 1447.2,211.4 1449.4,212.0 1451.4,212.5 1453.3,212.7 1454.8,212.7 1454.6,211.0 1454.2,209.1 1453.6,207.1 1452.8,204.9 1452.0,202.7 1451.2,200.4 1450.3,198.1 1449.5,195.8 1448.8,193.7 1448.3,191.7 1447.9,189.8 1447.9,188.4 1449.6,188.5 1451.5,188.8 1453.6,189.3 1455.8,189.9 1458.1,190.6 1460.5,191.3 1462.8,192.0 1465.1,192.7 1467.2,193.3 1469.3,193.7 1471.1,194.0 1472.5,193.8 1472.3,192.1 1471.8,190.2 1471.2,188.1 1470.5,185.9 1469.7,183.7 1468.8,181.4 1468.0,179.1 1467.2,176.9 1466.5,174.7 1465.9,172.7 1465.6,170.9 1465.7,169.6 1467.5,169.7 1471.6,165.4" fill="none" stroke="#6cbf2e" stroke-width="2.4" stroke-linejoin="round" stroke-linecap="round"/><path d="M1472.6,164.3 L1470.0,170.8 L1466.3,167.2 Z" fill="#6cbf2e"/><polyline points="1538.0,172.0 1536.9,174.0 1535.8,175.9 1534.8,177.7 1534.0,179.5 1533.4,181.1 1533.1,182.6 1534.6,182.7 1536.4,182.8 1538.4,182.7 1540.5,182.6 1542.7,182.3 1544.9,182.1 1547.2,181.8 1549.3,181.6 1551.4,181.5 1553.3,181.4 1555.1,181.5 1556.2,181.9 1555.8,183.5 1555.1,185.2 1554.2,186.9 1553.2,188.8 1552.1,190.7 1551.0,192.7 1549.9,194.7 1548.8,196.6 1547.9,198.4 1547.1,200.1 1546.5,201.7 1546.7,202.8 1548.4,203.0 1550.2,203.0 1552.2,202.9 1554.3,202.7 1556.5,202.5 1558.8,202.2 1561.0,202.0 1563.1,201.8 1565.2,201.7 1567.1,201.7 1568.7,201.8 1569.4,202.5 1568.9,204.1 1568.1,205.8 1567.3,207.6 1566.2,209.5 1565.1,211.4 1564.0,213.4 1562.9,215.3 1561.9,217.2 1561.0,219.0 1560.2,220.7 1559.7,222.3 1560.4,223.1 1562.1,223.2 1564.0,223.2 1566.0,223.1 1568.1,222.9 1570.4,222.6 1572.6,222.4 1574.8,222.1 1576.9,222.0 1578.9,221.9 1580.8,221.9 1582.4,222.0 1582.6,223.1 1582.0,224.7 1581.2,226.5 1580.3,228.3 1579.2,230.2 1578.1,232.2 1577.0,234.1 1575.9,236.0 1574.9,237.9 1574.1,239.7 1573.4,241.4 1576.7,246.4" fill="none" stroke="#a040b0" stroke-width="1.9" stroke-linejoin="round" stroke-linecap="round"/><path d="M1577.5,247.6 L1571.8,243.6 L1576.1,240.8 Z" fill="#a040b0"/><polyline points="1550.0,166.0 1548.9,167.9 1547.9,169.8 1546.9,171.7 1546.1,173.4 1545.5,175.0 1545.2,176.4 1546.7,176.4 1548.5,176.3 1550.4,176.1 1552.4,175.8 1554.6,175.4 1556.8,175.0 1558.9,174.6 1561.1,174.3 1563.1,174.0 1564.9,173.8 1566.6,173.8 1567.8,174.1 1567.3,175.6 1566.6,177.2 1565.8,179.0 1564.8,180.8 1563.8,182.7 1562.7,184.6 1561.6,186.6 1560.6,188.5 1559.7,190.3 1558.9,192.0 1558.4,193.5 1558.5,194.5 1560.1,194.6 1561.9,194.4 1563.9,194.2 1565.9,193.9 1568.1,193.5 1570.3,193.1 1572.4,192.7 1574.5,192.4 1576.5,192.1 1578.4,191.9 1580.0,191.9 1580.7,192.6 1580.1,194.1 1579.4,195.8 1578.6,197.6 1577.6,199.4 1576.5,201.4 1575.4,203.3 1574.3,205.2 1573.3,207.1 1572.5,208.9 1571.8,210.5 1571.2,212.0 1571.9,212.7 1573.5,212.7 1575.4,212.6 1577.3,212.3 1579.4,212.0 1581.6,211.6 1583.8,211.1 1586.0,210.8 1588.0,210.4 1590.0,210.2 1591.8,210.1 1593.4,210.1 1593.5,211.1 1593.0,212.7 1592.2,214.4 1591.3,216.2 1590.3,218.1 1589.2,220.0 1588.1,221.9 1587.0,223.8 1586.1,225.7 1585.2,227.4 1584.6,229.1 1588.1,234.0" fill="none" stroke="#a040b0" stroke-width="1.9" stroke-linejoin="round" stroke-linecap="round"/><path d="M1588.9,235.2 L1583.0,231.4 L1587.3,228.4 Z" fill="#a040b0"/><polyline points="1637.5,233.0 1639.7,233.3 1641.9,233.5 1644.0,233.7 1645.9,233.8 1647.7,233.7 1649.3,233.5 1648.9,232.0 1648.3,230.3 1647.5,228.5 1646.6,226.6 1645.6,224.7 1644.5,222.7 1643.5,220.7 1642.5,218.7 1641.6,216.9 1640.8,215.1 1640.3,213.4 1640.0,211.9 1641.5,211.8 1643.3,211.7 1645.3,211.8 1647.4,212.0 1649.6,212.3 1651.8,212.5 1654.0,212.8 1656.2,213.0 1658.3,213.2 1660.2,213.3 1662.0,213.2 1663.4,212.9 1663.0,211.4 1662.3,209.7 1661.6,207.9 1660.7,206.0 1659.6,204.0 1658.6,202.1 1657.5,200.1 1656.6,198.1 1655.7,196.2 1654.9,194.5 1654.4,192.8 1654.2,191.4 1655.8,191.3 1657.6,191.3 1659.6,191.4 1661.7,191.5 1663.9,191.8 1666.1,192.1 1668.3,192.3 1670.5,192.6 1672.6,192.7 1674.5,192.8 1676.2,192.7 1677.5,192.3 1677.1,190.8 1676.4,189.1 1675.6,187.3 1674.7,185.4 1673.7,183.4 1672.7,181.4 1671.6,179.4 1670.6,177.5 1669.8,175.6 1669.0,173.9 1668.5,172.2 1668.5,170.9 1670.1,170.8 1673.5,165.9" fill="none" stroke="#4cb848" stroke-width="2.2" stroke-linejoin="round" stroke-linecap="round"/><path d="M1674.3,164.6 L1672.8,171.4 L1668.5,168.5 Z" fill="#4cb848"/><polyline points="1665.4,231.0 1667.6,231.3 1669.8,231.6 1671.9,231.7 1673.9,231.8 1675.6,231.8 1677.2,231.6 1676.8,230.1 1676.2,228.4 1675.5,226.6 1674.6,224.6 1673.6,222.7 1672.6,220.7 1671.6,218.7 1670.6,216.7 1669.8,214.8 1669.0,213.0 1668.5,211.3 1668.2,209.8 1669.8,209.7 1671.6,209.6 1673.6,209.7 1675.6,209.9 1677.8,210.2 1680.1,210.5 1682.3,210.8 1684.5,211.0 1686.6,211.2 1688.5,211.3 1690.3,211.3 1691.7,211.0 1691.3,209.4 1690.7,207.7 1690.0,205.9 1689.1,204.0 1688.1,202.0 1687.1,200.0 1686.0,198.0 1685.1,196.0 1684.2,194.1 1683.5,192.3 1683.0,190.6 1682.8,189.3 1684.4,189.1 1686.2,189.1 1688.2,189.2 1690.3,189.4 1692.5,189.7 1694.7,190.0 1697.0,190.3 1699.2,190.5 1701.2,190.7 1703.1,190.8 1704.9,190.7 1706.2,190.3 1705.8,188.7 1705.2,187.0 1704.4,185.2 1703.5,183.3 1702.5,181.3 1701.5,179.3 1700.5,177.3 1699.5,175.3 1698.7,173.4 1698.0,171.7 1697.4,170.0 1697.4,168.7 1699.1,168.6 1702.5,163.7" fill="none" stroke="#4cb848" stroke-width="2.2" stroke-linejoin="round" stroke-linecap="round"/><path d="M1703.4,162.5 L1701.8,169.3 L1697.5,166.3 Z" fill="#4cb848"/><polyline points="1766.0,178.0 1764.8,179.9 1763.7,181.7 1762.7,183.5 1761.8,185.2 1761.1,186.7 1760.8,188.1 1762.3,188.2 1764.0,188.2 1765.9,188.0 1768.0,187.8 1770.1,187.5 1772.3,187.1 1774.5,186.8 1776.6,186.5 1778.6,186.3 1780.5,186.2 1782.2,186.2 1783.3,186.5 1782.8,188.0 1782.1,189.6 1781.1,191.3 1780.1,193.1 1779.0,194.9 1777.8,196.8 1776.6,198.7 1775.5,200.5 1774.6,202.3 1773.7,203.9 1773.1,205.5 1773.2,206.5 1774.8,206.5 1776.6,206.5 1778.5,206.3 1780.6,206.0 1782.8,205.7 1785.0,205.4 1787.1,205.1 1789.2,204.8 1791.2,204.6 1793.0,204.5 1794.7,204.5 1795.3,205.2 1794.7,206.7 1793.9,208.3 1793.0,210.1 1791.9,211.9 1790.8,213.7 1789.6,215.6 1788.4,217.5 1787.4,219.3 1786.4,221.0 1785.7,222.7 1785.1,224.2 1785.7,224.8 1787.3,224.9 1789.2,224.8 1791.1,224.6 1793.2,224.3 1795.4,224.0 1797.6,223.6 1799.8,223.3 1801.8,223.1 1803.8,222.9 1805.6,222.8 1807.1,222.9 1807.3,223.9 1806.6,225.4 1805.8,227.1 1804.8,228.8 1803.7,230.7 1802.6,232.6 1801.4,234.4 1800.3,236.3 1799.2,238.1 1798.3,239.8 1797.6,241.4 1800.9,246.4" fill="none" stroke="#a040b0" stroke-width="1.9" stroke-linejoin="round" stroke-linecap="round"/><path d="M1801.7,247.6 L1796.0,243.7 L1800.3,240.8 Z" fill="#a040b0"/><polyline points="1778.0,172.0 1776.9,173.9 1775.8,175.7 1774.8,177.4 1773.9,179.1 1773.2,180.6 1772.9,181.9 1774.4,181.9 1776.0,181.8 1777.9,181.5 1779.9,181.1 1782.0,180.7 1784.1,180.2 1786.3,179.8 1788.3,179.4 1790.3,179.0 1792.1,178.8 1793.8,178.7 1794.9,178.9 1794.3,180.4 1793.6,181.9 1792.7,183.6 1791.7,185.4 1790.6,187.2 1789.4,189.1 1788.3,190.9 1787.2,192.7 1786.3,194.4 1785.5,196.1 1784.8,197.6 1784.9,198.5 1786.5,198.5 1788.2,198.3 1790.1,198.0 1792.1,197.6 1794.3,197.2 1796.4,196.7 1798.5,196.3 1800.6,195.9 1802.5,195.5 1804.3,195.3 1805.9,195.3 1806.5,195.9 1805.9,197.3 1805.1,198.9 1804.2,200.6 1803.2,202.4 1802.0,204.3 1800.9,206.1 1799.8,208.0 1798.7,209.8 1797.8,211.5 1797.0,213.1 1796.4,214.5 1797.0,215.1 1798.6,215.0 1800.4,214.8 1802.3,214.5 1804.4,214.1 1806.5,213.7 1808.7,213.2 1810.8,212.8 1812.8,212.4 1814.7,212.1 1816.4,211.9 1818.0,211.8 1818.1,212.8 1817.5,214.3 1816.7,215.9 1815.7,217.7 1814.6,219.5 1813.5,221.3 1812.3,223.2 1811.2,225.0 1810.2,226.8 1809.3,228.5 1808.6,230.0 1812.0,234.9" fill="none" stroke="#a040b0" stroke-width="1.9" stroke-linejoin="round" stroke-linecap="round"/><path d="M1812.9,236.1 L1807.0,232.3 L1811.3,229.3 Z" fill="#a040b0"/><polyline points="1853.2,234.1 1855.4,234.6 1857.5,235.0 1859.5,235.4 1861.4,235.7 1863.1,235.8 1864.6,235.8 1864.2,234.3 1863.7,232.6 1862.9,230.9 1862.1,229.0 1861.2,227.1 1860.2,225.1 1859.2,223.1 1858.2,221.2 1857.4,219.3 1856.7,217.6 1856.2,215.9 1855.9,214.5 1857.4,214.5 1859.2,214.7 1861.1,214.9 1863.1,215.3 1865.2,215.8 1867.4,216.3 1869.5,216.7 1871.6,217.2 1873.6,217.5 1875.5,217.8 1877.2,217.9 1878.5,217.8 1878.2,216.3 1877.6,214.6 1876.9,212.9 1876.0,211.0 1875.1,209.0 1874.1,207.1 1873.1,205.1 1872.2,203.2 1871.4,201.3 1870.7,199.6 1870.1,197.9 1870.0,196.6 1871.6,196.6 1873.3,196.8 1875.2,197.1 1877.2,197.5 1879.4,197.9 1881.5,198.4 1883.7,198.9 1885.8,199.3 1887.8,199.7 1889.6,199.9 1891.3,200.0 1892.5,199.8 1892.1,198.3 1891.6,196.6 1890.8,194.8 1890.0,193.0 1889.0,191.0 1888.0,189.0 1887.0,187.1 1886.1,185.1 1885.3,183.3 1884.6,181.5 1884.1,179.9 1884.1,178.7 1885.7,178.8 1889.4,174.0" fill="none" stroke="#1f9a48" stroke-width="2.5" stroke-linejoin="round" stroke-linecap="round"/><path d="M1890.3,172.9 L1888.3,179.6 L1884.3,176.4 Z" fill="#1f9a48"/><polyline points="1887.5,234.0 1889.7,234.3 1891.8,234.5 1893.8,234.7 1895.7,234.7 1897.4,234.7 1898.8,234.6 1898.3,233.2 1897.5,231.6 1896.6,230.0 1895.5,228.3 1894.3,226.5 1893.1,224.7 1891.8,222.9 1890.6,221.1 1889.6,219.4 1888.6,217.8 1887.9,216.3 1887.4,215.0 1888.9,214.8 1890.7,214.8 1892.5,214.9 1894.6,215.1 1896.7,215.3 1898.9,215.6 1901.0,215.8 1903.2,216.1 1905.2,216.2 1907.0,216.3 1908.7,216.3 1910.0,216.0 1909.4,214.6 1908.7,213.1 1907.7,211.4 1906.6,209.7 1905.4,207.9 1904.2,206.1 1902.9,204.3 1901.8,202.6 1900.7,200.8 1899.8,199.2 1899.1,197.7 1898.7,196.5 1900.3,196.4 1902.0,196.3 1903.9,196.4 1905.9,196.6 1908.1,196.9 1910.2,197.1 1912.4,197.4 1914.5,197.6 1916.5,197.8 1918.4,197.8 1920.0,197.8 1921.2,197.5 1920.6,196.0 1919.8,194.5 1918.8,192.9 1917.7,191.1 1916.5,189.4 1915.3,187.5 1914.1,185.7 1912.9,184.0 1911.8,182.3 1910.9,180.7 1910.2,179.2 1910.1,178.0 1911.6,177.9 1914.7,172.8" fill="none" stroke="#1f9a48" stroke-width="2.5" stroke-linejoin="round" stroke-linecap="round"/><path d="M1915.5,171.5 L1914.3,178.4 L1909.9,175.7 Z" fill="#1f9a48"/><polyline points="1915.5,235.2 1917.6,235.8 1919.7,236.3 1921.7,236.7 1923.5,237.1 1925.2,237.3 1926.7,237.3 1926.3,235.8 1925.7,234.2 1925.0,232.5 1924.2,230.6 1923.3,228.7 1922.3,226.7 1921.3,224.8 1920.4,222.9 1919.5,221.0 1918.8,219.3 1918.3,217.7 1918.0,216.3 1919.5,216.4 1921.2,216.6 1923.1,216.9 1925.1,217.4 1927.1,217.9 1929.3,218.5 1931.4,219.0 1933.4,219.5 1935.4,220.0 1937.2,220.3 1938.9,220.5 1940.3,220.4 1939.9,218.9 1939.3,217.3 1938.6,215.6 1937.7,213.7 1936.8,211.8 1935.8,209.8 1934.8,207.9 1933.9,206.0 1933.1,204.1 1932.4,202.4 1931.9,200.8 1931.7,199.6 1933.3,199.6 1935.0,199.9 1936.8,200.2 1938.8,200.7 1940.9,201.2 1943.0,201.8 1945.1,202.3 1947.2,202.8 1949.2,203.2 1951.0,203.6 1952.6,203.7 1953.8,203.6 1953.4,202.1 1952.9,200.4 1952.1,198.7 1951.3,196.8 1950.3,194.9 1949.4,192.9 1948.4,191.0 1947.5,189.1 1946.6,187.2 1946.0,185.5 1945.5,184.0 1945.5,182.8 1947.0,182.9 1950.8,178.2" fill="none" stroke="#1f9a48" stroke-width="2.5" stroke-linejoin="round" stroke-linecap="round"/><path d="M1951.7,177.1 L1949.6,183.7 L1945.6,180.5 Z" fill="#1f9a48"/>
<defs>
<clipPath id="clipDimg"><rect x="599.2" y="716.6" width="312.8" height="244.4"/></clipPath>
<linearGradient id="dArr" x1="0" y1="0" x2="1" y2="0"><stop offset="0" stop-color="#e9e9e9"/><stop offset="1" stop-color="#e4e4e4"/></linearGradient>
<filter id="dBlur1" x="-20%" y="-20%" width="140%" height="140%"><feGaussianBlur stdDeviation="0.8"/></filter>
<filter id="dBlur2" x="-50%" y="-50%" width="200%" height="200%"><feGaussianBlur stdDeviation="1.6"/></filter>
<radialGradient id="dotB"><stop offset="0" stop-color="#5a70e8"/><stop offset="0.6" stop-color="#3a48c8"/><stop offset="1" stop-color="#2a2a90" stop-opacity="0"/></radialGradient>
<radialGradient id="dotC"><stop offset="0" stop-color="#a8f0fa"/><stop offset="0.55" stop-color="#60d4f0"/><stop offset="0.8" stop-color="#1a90c0"/><stop offset="1" stop-color="#106080" stop-opacity="0"/></radialGradient>
<radialGradient id="dotG"><stop offset="0" stop-color="#a8e0d0"/><stop offset="0.45" stop-color="#60c890"/><stop offset="0.75" stop-color="#20b040"/><stop offset="1" stop-color="#108020" stop-opacity="0"/></radialGradient>
<radialGradient id="dotG2"><stop offset="0" stop-color="#8cd040"/><stop offset="0.6" stop-color="#50c038"/><stop offset="0.85" stop-color="#20a030"/><stop offset="1" stop-color="#108020" stop-opacity="0"/></radialGradient>
</defs><line x1="618.6" y1="436.5" x2="618.6" y2="700.5" stroke="#1a1a1a" stroke-width="2.2"/><path d="M618.6,428.5 L613.1,440.5 L618.6,437.5 L624.1,440.5 Z" fill="#1a1a1a"/><line x1="615.6" y1="450.5" x2="618.6" y2="450.5" stroke="#1a1a1a" stroke-width="1"/><line x1="615.6" y1="461.8" x2="618.6" y2="461.8" stroke="#1a1a1a" stroke-width="1"/><line x1="615.6" y1="473.1" x2="618.6" y2="473.1" stroke="#1a1a1a" stroke-width="1"/><line x1="615.6" y1="484.4" x2="618.6" y2="484.4" stroke="#1a1a1a" stroke-width="1"/><line x1="615.6" y1="495.7" x2="618.6" y2="495.7" stroke="#1a1a1a" stroke-width="1"/><line x1="615.6" y1="507.0" x2="618.6" y2="507.0" stroke="#1a1a1a" stroke-width="1"/><line x1="615.6" y1="518.3" x2="618.6" y2="518.3" stroke="#1a1a1a" stroke-width="1"/><line x1="615.6" y1="529.6" x2="618.6" y2="529.6" stroke="#1a1a1a" stroke-width="1"/><line x1="615.6" y1="540.9" x2="618.6" y2="540.9" stroke="#1a1a1a" stroke-width="1"/><line x1="615.6" y1="552.2" x2="618.6" y2="552.2" stroke="#1a1a1a" stroke-width="1"/><line x1="615.6" y1="563.5" x2="618.6" y2="563.5" stroke="#1a1a1a" stroke-width="1"/><line x1="615.6" y1="574.8" x2="618.6" y2="574.8" stroke="#1a1a1a" stroke-width="1"/><line x1="615.6" y1="586.1" x2="618.6" y2="586.1" stroke="#1a1a1a" stroke-width="1"/><line x1="615.6" y1="597.4" x2="618.6" y2="597.4" stroke="#1a1a1a" stroke-width="1"/><line x1="615.6" y1="608.7" x2="618.6" y2="608.7" stroke="#1a1a1a" stroke-width="1"/><line x1="615.6" y1="620.0" x2="618.6" y2="620.0" stroke="#1a1a1a" stroke-width="1"/><line x1="615.6" y1="631.3" x2="618.6" y2="631.3" stroke="#1a1a1a" stroke-width="1"/><line x1="615.6" y1="642.6" x2="618.6" y2="642.6" stroke="#1a1a1a" stroke-width="1"/><line x1="615.6" y1="653.9" x2="618.6" y2="653.9" stroke="#1a1a1a" stroke-width="1"/><line x1="615.6" y1="665.2" x2="618.6" y2="665.2" stroke="#1a1a1a" stroke-width="1"/><line x1="615.6" y1="676.5" x2="618.6" y2="676.5" stroke="#1a1a1a" stroke-width="1"/><line x1="615.6" y1="687.8" x2="618.6" y2="687.8" stroke="#1a1a1a" stroke-width="1"/><line x1="615.6" y1="699.1" x2="618.6" y2="699.1" stroke="#1a1a1a" stroke-width="1"/><line x1="800.6" y1="438" x2="800.6" y2="700.5" stroke="#1a1a1a" stroke-width="2.2"/><path d="M800.6,430 L795.1,442 L800.6,439 L806.1,442 Z" fill="#1a1a1a"/><line x1="797.6" y1="452.0" x2="800.6" y2="452.0" stroke="#1a1a1a" stroke-width="1"/><line x1="797.6" y1="463.3" x2="800.6" y2="463.3" stroke="#1a1a1a" stroke-width="1"/><line x1="797.6" y1="474.6" x2="800.6" y2="474.6" stroke="#1a1a1a" stroke-width="1"/><line x1="797.6" y1="485.9" x2="800.6" y2="485.9" stroke="#1a1a1a" stroke-width="1"/><line x1="797.6" y1="497.2" x2="800.6" y2="497.2" stroke="#1a1a1a" stroke-width="1"/><line x1="797.6" y1="508.5" x2="800.6" y2="508.5" stroke="#1a1a1a" stroke-width="1"/><line x1="797.6" y1="519.8" x2="800.6" y2="519.8" stroke="#1a1a1a" stroke-width="1"/><line x1="797.6" y1="531.1" x2="800.6" y2="531.1" stroke="#1a1a1a" stroke-width="1"/><line x1="797.6" y1="542.4" x2="800.6" y2="542.4" stroke="#1a1a1a" stroke-width="1"/><line x1="797.6" y1="553.7" x2="800.6" y2="553.7" stroke="#1a1a1a" stroke-width="1"/><line x1="797.6" y1="565.0" x2="800.6" y2="565.0" stroke="#1a1a1a" stroke-width="1"/><line x1="797.6" y1="576.3" x2="800.6" y2="576.3" stroke="#1a1a1a" stroke-width="1"/><line x1="797.6" y1="587.6" x2="800.6" y2="587.6" stroke="#1a1a1a" stroke-width="1"/><line x1="797.6" y1="598.9" x2="800.6" y2="598.9" stroke="#1a1a1a" stroke-width="1"/><line x1="797.6" y1="610.2" x2="800.6" y2="610.2" stroke="#1a1a1a" stroke-width="1"/><line x1="797.6" y1="621.5" x2="800.6" y2="621.5" stroke="#1a1a1a" stroke-width="1"/><line x1="797.6" y1="632.8" x2="800.6" y2="632.8" stroke="#1a1a1a" stroke-width="1"/><line x1="797.6" y1="644.1" x2="800.6" y2="644.1" stroke="#1a1a1a" stroke-width="1"/><line x1="797.6" y1="655.4" x2="800.6" y2="655.4" stroke="#1a1a1a" stroke-width="1"/><line x1="797.6" y1="666.7" x2="800.6" y2="666.7" stroke="#1a1a1a" stroke-width="1"/><line x1="797.6" y1="678.0" x2="800.6" y2="678.0" stroke="#1a1a1a" stroke-width="1"/><line x1="797.6" y1="689.3" x2="800.6" y2="689.3" stroke="#1a1a1a" stroke-width="1"/><path d="M619.5,452.6 C640,465 665,480 677,495 C686,507 685,520 675,525 C660,531 635,530 619.5,530.6 Z" fill="#454545"/><path d="M619.5,452.6 C640,465 665,480 677,495 C686,507 685,520 675,525 C660,531 635,530 619.5,530.6" fill="none" stroke="#3a74c8" stroke-width="1.6"/><path d="M619.5,619.3 C640,619 668,619 677,624 C687,630 684,642 674,652 C660,666 638,684 619.5,699.3 Z" fill="#454545"/><path d="M619.5,619.3 C640,619 668,619 677,624 C687,630 684,642 674,652 C660,666 638,684 619.5,699.3" fill="none" stroke="#3a74c8" stroke-width="1.6"/><text x="654" y="515" font-size="17" fill="#eee" font-style="italic" font-weight="bold" text-anchor="middle">Ec</text><text x="653" y="652.5" font-size="17" fill="#eee" font-style="italic" font-weight="bold" text-anchor="middle">Ev</text><line x1="637.6" y1="540" x2="637.6" y2="610" stroke="#3a74c8" stroke-width="1.8" stroke-dasharray="5,3.5"/><path d="M637.6,532 L632.5,543 L642.7,543 Z" fill="#3a74c8"/><path d="M637.6,618.5 L632.5,607.5 L642.7,607.5 Z" fill="#3a74c8"/><text x="642.5" y="578" font-size="15" fill="#1a1a1a">&#916;<tspan font-style="italic">E</tspan></text><text transform="translate(603.8,570) rotate(-90)" font-size="14" fill="#666" text-anchor="middle" font-weight="bold">Energy (eV)</text><path d="M668.7,547.8 L747.4,547.8 L747.4,526.6 L789.8,569.4 L747.4,611.3 L747.4,591 L668.7,591 Z" fill="#e6e6e6"/><text x="673" y="566.5" font-size="14.5" fill="#6a6a6a" font-weight="bold" textLength="103" lengthAdjust="spacingAndGlyphs">Exciton-phonon</text><text x="673" y="583" font-size="14.5" fill="#6a6a6a" font-weight="bold">coupling</text><path d="M801.4,524.8 L855,518.3 L801.4,557.4 Z" fill="#e2e2e2"/><line x1="855" y1="518.3" x2="801.4" y2="557.4" stroke="#3a74c8" stroke-width="1.4"/><path d="M801.4,447 C825,460 845,472 856,487 C865,498 866,510 857,517 C840,521 820,523 801.4,524.8 Z" fill="#454545"/><path d="M801.4,447 C825,460 845,472 856,487 C865,498 866,510 857,517" fill="none" stroke="#3a74c8" stroke-width="1.6"/><line x1="801.4" y1="593.4" x2="849.4" y2="614.1" stroke="#3a74c8" stroke-width="1.4"/><path d="M801.4,614.1 C825,614 845,614.5 856,618 C866,623 866,634 856,644 C842,658 822,678 801.4,693.4 Z" fill="#454545"/><path d="M801.4,614.1 C825,614 845,614.5 856,618 C866,623 866,634 856,644 C842,658 822,678 801.4,693.4" fill="none" stroke="#3a74c8" stroke-width="1.6"/><text x="833" y="500.8" font-size="17" fill="#eee" font-style="italic" font-weight="bold" text-anchor="middle">Ec</text><text x="834.5" y="646.7" font-size="17" fill="#eee" font-style="italic" font-weight="bold" text-anchor="middle">Ev</text><line x1="801.4" y1="558.3" x2="831" y2="558.3" stroke="#444" stroke-width="1.5" stroke-dasharray="4.5,3"/><line x1="801.4" y1="591.4" x2="831" y2="591.4" stroke="#444" stroke-width="1.5" stroke-dasharray="4.5,3"/><line x1="821.7" y1="566" x2="821.7" y2="584" stroke="#3a74c8" stroke-width="3"/><path d="M821.7,558.8 L815.5,570 L827.9,570 Z" fill="#3a74c8"/><path d="M821.7,591 L815.5,579.8 L827.9,579.8 Z" fill="#3a74c8"/><text x="833.5" y="581.5" font-size="15" fill="#1a1a1a">&#916;<tspan font-style="italic">E&#8217;</tspan></text><text x="867" y="571.3" font-size="14.5" fill="#1a1a1a">Urbach</text><text x="867" y="585.6" font-size="14.5" fill="#1a1a1a">tall</text><path d="M865,557 C858,553 850,548 846.5,540" fill="none" stroke="#1a1a1a" stroke-width="2.2"/><path d="M843,534.5 L842,546 L851.5,541 Z" fill="#1a1a1a"/><path d="M866.4,590.5 C858,592 851,597 849.5,604" fill="none" stroke="#1a1a1a" stroke-width="2.2"/><path d="M848,611.5 L843.5,601 L854,602 Z" fill="#1a1a1a"/><g clip-path="url(#clipDimg)"><rect x="599.2" y="716.6" width="312.8" height="244.4" fill="#eef5fb"/><path d="M599.2,716.6 L629,716.6 L599.2,745.7 Z" fill="#7fa2da"/><ellipse cx="752" cy="818" rx="188" ry="72" fill="#b894cc"/><ellipse cx="745" cy="858" rx="170" ry="56" fill="#a984c0" opacity="0.85"/><rect x="599.2" y="869.3" width="255" height="40" fill="#dadaee"/><path d="M853.5,869.3 L912.3,816.1 L912.3,852 L853.5,906.5 Z" fill="#c4c8d6"/><path d="M599.2,906.3 L853.5,906.3 L912.3,852 L912.3,900 L853.5,961 L599.2,961 Z" fill="#1e1b1b"/><text x="617.7" y="896.4" font-size="13.5" fill="#555" font-weight="bold" textLength="82" lengthAdjust="spacingAndGlyphs">Silicon dioxide</text><text x="619" y="941.2" font-size="13.5" fill="#d4d4d4" font-weight="bold">Silicon</text><line x1="734.4" y1="858.6" x2="874" y2="962" stroke="#3cb44a" stroke-width="9" filter="url(#dBlur1)"/><line x1="806.5" y1="841.5" x2="915" y2="925" stroke="#4a88d8" stroke-width="8" filter="url(#dBlur1)"/><line x1="845" y1="871" x2="915" y2="925" stroke="#48c0f0" stroke-width="8" filter="url(#dBlur1)"/><line x1="881" y1="826" x2="915" y2="852" stroke="#4a35a5" stroke-width="8" filter="url(#dBlur1)"/><g transform="translate(623,772) rotate(37.86)"><rect x="-13" y="-13" width="167.10109850741773" height="26" rx="13" fill="#8a90c0" filter="url(#dBlur1)"/><rect x="-9.5" y="-9.5" width="160.10109850741773" height="19" rx="9.5" fill="#e9ae22"/><polyline points="-3.0,-0.0 -2.0,-2.2 -1.0,-4.1 0.1,-5.7 1.1,-6.7 2.1,-7.0 3.1,-6.7 4.2,-5.7 5.2,-4.1 6.2,-2.2 7.2,0.0 8.3,2.2 9.3,4.1 10.3,5.7 11.3,6.7 12.4,7.0 13.4,6.7 14.4,5.7 15.4,4.1 16.5,2.2 17.5,-0.0 18.5,-2.2 19.5,-4.1 20.5,-5.7 21.6,-6.7 22.6,-7.0 23.6,-6.7 24.6,-5.7 25.7,-4.1 26.7,-2.2 27.7,0.0 28.7,2.2 29.8,4.1 30.8,5.7 31.8,6.7 32.8,7.0 33.9,6.7 34.9,5.7 35.9,4.1 36.9,2.2 38.0,-0.0 39.0,-2.2 40.0,-4.1 41.0,-5.7 42.0,-6.7 43.1,-7.0 44.1,-6.7 45.1,-5.7 46.1,-4.1 47.2,-2.2 48.2,0.0 49.2,2.2 50.2,4.1 51.3,5.7 52.3,6.7 53.3,7.0 54.3,6.7 55.4,5.7 56.4,4.1 57.4,2.2 58.4,-0.0 59.5,-2.2 60.5,-4.1 61.5,-5.7 62.5,-6.7 63.6,-7.0 64.6,-6.7 65.6,-5.7 66.6,-4.1 67.6,-2.2 68.7,-0.0 69.7,2.2 70.7,4.1 71.7,5.7 72.8,6.7 73.8,7.0 74.8,6.7 75.8,5.7 76.9,4.1 77.9,2.2 78.9,-0.0 79.9,-2.2 81.0,-4.1 82.0,-5.7 83.0,-6.7 84.0,-7.0 85.1,-6.7 86.1,-5.7 87.1,-4.1 88.1,-2.2 89.1,-0.0 90.2,2.2 91.2,4.1 92.2,5.7 93.2,6.7 94.3,7.0 95.3,6.7 96.3,5.7 97.3,4.1 98.4,2.2 99.4,-0.0 100.4,-2.2 101.4,-4.1 102.5,-5.7 103.5,-6.7 104.5,-7.0 105.5,-6.7 106.6,-5.7 107.6,-4.1 108.6,-2.2 109.6,0.0 110.6,2.2 111.7,4.1 112.7,5.7 113.7,6.7 114.7,7.0 115.8,6.7 116.8,5.7 117.8,4.1 118.8,2.2 119.9,-0.0 120.9,-2.2 121.9,-4.1 122.9,-5.7 124.0,-6.7 125.0,-7.0 126.0,-6.7 127.0,-5.7 128.1,-4.1 129.1,-2.2 130.1,0.0" fill="none" stroke="#2a9a3a" stroke-width="1.9" stroke-linejoin="round"/><circle cx="141.10109850741773" cy="0" r="10" fill="#a890b0"/><circle cx="142.10109850741773" cy="0" r="7" fill="#1a8a40"/></g><g transform="translate(712,769) rotate(37.50)"><rect x="-13" y="-13" width="145.1070946669425" height="26" rx="13" fill="#7a9ad8" filter="url(#dBlur1)"/><rect x="-9.5" y="-9.5" width="138.1070946669425" height="19" rx="9.5" fill="#e9ae22"/><polyline points="-3.0,-0.0 -1.9,-2.2 -0.8,-4.1 0.3,-5.7 1.4,-6.7 2.6,-7.0 3.7,-6.7 4.8,-5.7 5.9,-4.1 7.0,-2.2 8.1,-0.0 9.2,2.2 10.3,4.1 11.4,5.7 12.6,6.7 13.7,7.0 14.8,6.7 15.9,5.7 17.0,4.1 18.1,2.2 19.2,0.0 20.3,-2.2 21.4,-4.1 22.6,-5.7 23.7,-6.7 24.8,-7.0 25.9,-6.7 27.0,-5.7 28.1,-4.1 29.2,-2.2 30.3,-0.0 31.4,2.2 32.6,4.1 33.7,5.7 34.8,6.7 35.9,7.0 37.0,6.7 38.1,5.7 39.2,4.1 40.3,2.2 41.4,0.0 42.6,-2.2 43.7,-4.1 44.8,-5.7 45.9,-6.7 47.0,-7.0 48.1,-6.7 49.2,-5.7 50.3,-4.1 51.4,-2.2 52.6,-0.0 53.7,2.2 54.8,4.1 55.9,5.7 57.0,6.7 58.1,7.0 59.2,6.7 60.3,5.7 61.4,4.1 62.6,2.2 63.7,0.0 64.8,-2.2 65.9,-4.1 67.0,-5.7 68.1,-6.7 69.2,-7.0 70.3,-6.7 71.4,-5.7 72.6,-4.1 73.7,-2.2 74.8,-0.0 75.9,2.2 77.0,4.1 78.1,5.7 79.2,6.7 80.3,7.0 81.4,6.7 82.6,5.7 83.7,4.1 84.8,2.2 85.9,0.0 87.0,-2.2 88.1,-4.1 89.2,-5.7 90.3,-6.7 91.4,-7.0 92.6,-6.7 93.7,-5.7 94.8,-4.1 95.9,-2.2 97.0,-0.0 98.1,2.2 99.2,4.1 100.3,5.7 101.4,6.7 102.6,7.0 103.7,6.7 104.8,5.7 105.9,4.1 107.0,2.2 108.1,0.0" fill="none" stroke="#3ac8c8" stroke-width="1.9" stroke-linejoin="round"/><circle cx="119.10709466694249" cy="0" r="10" fill="#a890b0"/><circle cx="120.10709466694249" cy="0" r="7" fill="#3a80d8"/></g><g transform="translate(819,780) rotate(36.57)"><rect x="-13" y="-13" width="103.20103626247513" height="26" rx="13" fill="#7040b0" filter="url(#dBlur1)"/><rect x="-9.5" y="-9.5" width="96.20103626247513" height="19" rx="9.5" fill="#e9ae22"/><polyline points="-3.0,-0.0 -2.0,-2.2 -1.0,-4.1 -0.0,-5.7 1.0,-6.7 1.9,-7.0 2.9,-6.7 3.9,-5.7 4.9,-4.1 5.9,-2.2 6.9,-0.0 7.9,2.2 8.9,4.1 9.9,5.7 10.8,6.7 11.8,7.0 12.8,6.7 13.8,5.7 14.8,4.1 15.8,2.2 16.8,0.0 17.8,-2.2 18.7,-4.1 19.7,-5.7 20.7,-6.7 21.7,-7.0 22.7,-6.7 23.7,-5.7 24.7,-4.1 25.7,-2.2 26.7,-0.0 27.6,2.2 28.6,4.1 29.6,5.7 30.6,6.7 31.6,7.0 32.6,6.7 33.6,5.7 34.6,4.1 35.6,2.2 36.5,0.0 37.5,-2.2 38.5,-4.1 39.5,-5.7 40.5,-6.7 41.5,-7.0 42.5,-6.7 43.5,-5.7 44.5,-4.1 45.4,-2.2 46.4,-0.0 47.4,2.2 48.4,4.1 49.4,5.7 50.4,6.7 51.4,7.0 52.4,6.7 53.3,5.7 54.3,4.1 55.3,2.2 56.3,0.0 57.3,-2.2 58.3,-4.1 59.3,-5.7 60.3,-6.7 61.3,-7.0 62.2,-6.7 63.2,-5.7 64.2,-4.1 65.2,-2.2 66.2,-0.0" fill="none" stroke="#2a3a90" stroke-width="1.9" stroke-linejoin="round"/><circle cx="77.20103626247513" cy="0" r="10" fill="#a890b0"/><circle cx="78.20103626247513" cy="0" r="7" fill="#4030a0"/></g><text transform="translate(759.5,755.5) rotate(-10.5)" font-size="13.5" fill="#3a3048" font-weight="bold" textLength="133" lengthAdjust="spacingAndGlyphs">Excitation laser spot</text><text transform="translate(617,806) rotate(37.5)" font-size="13.5" fill="#3a2a50" font-weight="bold" textLength="94" lengthAdjust="spacingAndGlyphs">CdS nanowire</text><text transform="translate(800,874) rotate(41.4)" font-size="13.5" fill="#f0f0f0" font-weight="bold" textLength="90" lengthAdjust="spacingAndGlyphs">Lasing output</text></g><rect x="916.7" y="433.6" width="298.7" height="125.2" fill="#13100e"/><ellipse cx="1030" cy="497.5" rx="7.5" ry="10.5" fill="url(#dotB)"/><ellipse cx="1098.8" cy="498.9" rx="6.5" ry="8.5" fill="url(#dotB)"/><text x="1126.2" y="551.8" font-size="15" fill="#e6e6e6" textLength="67" lengthAdjust="spacingAndGlyphs">L = 4.3 &#956;m</text><rect x="916.7" y="566" width="298.7" height="125.5" fill="#13100e"/><ellipse cx="1010.7" cy="631.3" rx="7.5" ry="9.5" fill="url(#dotC)"/><ellipse cx="1122.2" cy="631.3" rx="7.5" ry="10" fill="url(#dotC)"/><text x="1126.2" y="684.5" font-size="15" fill="#e6e6e6" textLength="67" lengthAdjust="spacingAndGlyphs">L = 7.1 &#956;m</text><rect x="916.7" y="698.6" width="298.7" height="125.2" fill="#13100e"/><ellipse cx="962.9" cy="764.7" rx="5.5" ry="10.5" fill="url(#dotG)"/><ellipse cx="1165.2" cy="764.7" rx="5.5" ry="10.5" fill="url(#dotG)"/><text x="1126.2" y="816.8" font-size="15" fill="#e6e6e6" textLength="75" lengthAdjust="spacingAndGlyphs">L = 11.8 &#956;m</text><rect x="916.7" y="832.4" width="298.7" height="124.9" fill="#13100e"/><ellipse cx="933.4" cy="899.5" rx="8.5" ry="10" fill="url(#dotG2)"/><ellipse cx="1198.8" cy="897.7" rx="7" ry="7" fill="url(#dotG2)"/><text x="1126.2" y="950.3" font-size="15" fill="#e6e6e6" textLength="75" lengthAdjust="spacingAndGlyphs">L = 16.4 &#956;m</text>
<path d="M1297.0,586.0 C1314.2,586.0 1369.5,586.0 1400.0,586.0 C1430.5,586.0 1451.7,586.0 1480.0,585.7 C1508.3,585.4 1546.4,584.8 1569.6,584.0 C1592.8,583.2 1609.4,582.4 1619.4,580.8 C1629.4,579.2 1627.0,579.6 1629.4,574.5 C1631.8,569.4 1632.7,561.6 1634.0,550.0 C1635.3,538.4 1636.4,516.5 1637.5,505.0 C1638.6,493.5 1639.6,481.2 1640.6,481.2 C1641.6,481.2 1642.5,494.4 1643.5,505.0 C1644.5,515.6 1645.5,538.9 1646.3,544.7 C1647.1,550.5 1647.7,541.2 1648.5,540.0 C1649.3,538.8 1650.4,535.9 1651.3,537.2 C1652.2,538.5 1652.9,542.6 1654.0,548.0 C1655.1,553.4 1656.3,565.2 1658.0,569.6 C1659.7,574.0 1661.5,572.8 1664.2,574.5 C1666.9,576.2 1669.6,578.8 1674.2,580.0 C1678.8,581.2 1682.3,581.4 1691.6,582.0 C1700.9,582.6 1716.7,583.0 1730.0,583.5 C1743.3,584.0 1764.4,584.8 1771.3,585.0" fill="none" stroke="#e5097f" stroke-width="3.6" stroke-linejoin="round"/><path d="M1297.0,698.5 C1327.5,698.5 1437.0,699.0 1480.0,698.5 C1523.0,698.0 1540.8,696.7 1554.7,695.3 C1568.6,693.9 1561.4,695.3 1563.4,690.3 C1565.4,685.2 1565.4,676.7 1566.5,665.0 C1567.6,653.3 1568.8,631.7 1570.0,620.0 C1571.2,608.3 1572.3,595.8 1573.4,595.0 C1574.5,594.2 1575.5,604.3 1576.5,615.0 C1577.5,625.7 1578.7,651.7 1579.6,659.2 C1580.5,666.7 1581.2,659.8 1582.0,659.8 C1582.8,659.8 1583.7,656.7 1584.6,659.2 C1585.5,661.7 1586.6,670.5 1587.5,675.0 C1588.4,679.5 1589.1,683.5 1590.0,686.0 C1590.9,688.5 1591.3,689.3 1593.0,690.3 C1594.7,691.3 1585.6,691.0 1600.0,691.8 C1614.4,692.6 1650.7,694.2 1679.2,695.3 C1707.8,696.4 1756.0,698.0 1771.3,698.5" fill="none" stroke="#3a4aa8" stroke-width="3.6" stroke-linejoin="round"/><path d="M1297.0,813.0 C1327.5,813.0 1442.2,813.1 1480.0,812.8 C1517.8,812.5 1515.2,812.1 1523.9,811.0 C1532.7,809.9 1530.0,808.8 1532.5,806.2 C1535.0,803.6 1536.6,801.5 1538.6,795.2 C1540.6,788.9 1543.0,779.2 1544.7,768.3 C1546.4,757.4 1547.8,739.8 1549.0,730.0 C1550.2,720.2 1551.0,710.6 1552.0,709.8 C1553.0,709.0 1554.0,718.9 1555.0,725.0 C1556.0,731.1 1557.0,742.0 1558.1,746.4 C1559.2,750.8 1560.4,748.0 1561.8,751.3 C1563.2,754.5 1564.8,760.0 1566.6,765.9 C1568.4,771.8 1570.9,782.9 1572.7,786.6 C1574.5,790.4 1574.8,787.6 1577.6,788.4 C1580.4,789.2 1581.7,790.2 1589.8,791.5 C1597.9,792.8 1608.1,794.1 1626.4,796.4 C1644.7,798.6 1675.7,802.6 1699.7,805.0 C1723.7,807.4 1758.7,810.0 1770.5,811.0" fill="none" stroke="#e8101a" stroke-width="3.6" stroke-linejoin="round"/><path d="M1297.0,927.5 C1314.2,927.4 1369.5,927.2 1400.0,927.0 C1430.5,926.8 1462.8,926.6 1480.0,926.0 C1497.2,925.4 1498.7,925.6 1503.2,923.3 C1507.7,921.0 1505.4,921.0 1506.8,912.3 C1508.2,903.6 1510.2,883.8 1511.7,870.9 C1513.2,858.0 1514.3,842.9 1515.5,835.0 C1516.7,827.1 1518.0,822.8 1519.0,823.3 C1520.0,823.8 1520.7,832.9 1521.5,838.0 C1522.3,843.1 1523.2,850.6 1523.9,853.8 C1524.7,857.0 1525.2,856.0 1526.0,857.0 C1526.8,858.0 1527.7,856.0 1528.8,859.9 C1529.9,863.8 1531.5,873.1 1532.5,880.6 C1533.5,888.1 1533.5,900.5 1534.9,905.0 C1536.3,909.5 1538.0,906.0 1541.0,907.5 C1544.0,909.0 1547.1,913.2 1553.2,914.3 C1559.3,915.4 1561.3,914.0 1577.6,914.3 C1593.9,914.6 1626.5,914.9 1650.9,916.0 C1675.3,917.1 1704.2,919.7 1724.1,920.9 C1744.0,922.1 1762.8,922.9 1770.5,923.3" fill="none" stroke="#111" stroke-width="3.6" stroke-linejoin="round"/><rect x="1297.1" y="470.7" width="474.2" height="477.3" rx="2" fill="none" stroke="#2a2a2a" stroke-width="3"/><line x1="1297.1" y1="491.3" x2="1303.3999999999999" y2="491.3" stroke="#2a2a2a" stroke-width="2.6"/><line x1="1297.1" y1="512.1" x2="1308.5" y2="512.1" stroke="#2a2a2a" stroke-width="2.6"/><line x1="1297.1" y1="532.9" x2="1303.3999999999999" y2="532.9" stroke="#2a2a2a" stroke-width="2.6"/><line x1="1297.1" y1="553.7" x2="1303.3999999999999" y2="553.7" stroke="#2a2a2a" stroke-width="2.6"/><line x1="1297.1" y1="574.5" x2="1303.3999999999999" y2="574.5" stroke="#2a2a2a" stroke-width="2.6"/><line x1="1297.1" y1="595.3" x2="1303.3999999999999" y2="595.3" stroke="#2a2a2a" stroke-width="2.6"/><line x1="1297.1" y1="616.1" x2="1303.3999999999999" y2="616.1" stroke="#2a2a2a" stroke-width="2.6"/><line x1="1297.1" y1="636.9" x2="1303.3999999999999" y2="636.9" stroke="#2a2a2a" stroke-width="2.6"/><line x1="1297.1" y1="657.7" x2="1303.3999999999999" y2="657.7" stroke="#2a2a2a" stroke-width="2.6"/><line x1="1297.1" y1="678.5" x2="1303.3999999999999" y2="678.5" stroke="#2a2a2a" stroke-width="2.6"/><line x1="1297.1" y1="699.3" x2="1303.3999999999999" y2="699.3" stroke="#2a2a2a" stroke-width="2.6"/><line x1="1297.1" y1="720.1" x2="1308.5" y2="720.1" stroke="#2a2a2a" stroke-width="2.6"/><line x1="1297.1" y1="740.9" x2="1303.3999999999999" y2="740.9" stroke="#2a2a2a" stroke-width="2.6"/><line x1="1297.1" y1="761.7" x2="1303.3999999999999" y2="761.7" stroke="#2a2a2a" stroke-width="2.6"/><line x1="1297.1" y1="782.5" x2="1303.3999999999999" y2="782.5" stroke="#2a2a2a" stroke-width="2.6"/><line x1="1297.1" y1="803.3" x2="1303.3999999999999" y2="803.3" stroke="#2a2a2a" stroke-width="2.6"/><line x1="1297.1" y1="824.1" x2="1303.3999999999999" y2="824.1" stroke="#2a2a2a" stroke-width="2.6"/><line x1="1297.1" y1="844.9" x2="1303.3999999999999" y2="844.9" stroke="#2a2a2a" stroke-width="2.6"/><line x1="1297.1" y1="865.7" x2="1303.3999999999999" y2="865.7" stroke="#2a2a2a" stroke-width="2.6"/><line x1="1297.1" y1="886.5" x2="1303.3999999999999" y2="886.5" stroke="#2a2a2a" stroke-width="2.6"/><line x1="1297.1" y1="907.3" x2="1303.3999999999999" y2="907.3" stroke="#2a2a2a" stroke-width="2.6"/><line x1="1297.1" y1="928.1" x2="1308.5" y2="928.1" stroke="#2a2a2a" stroke-width="2.6"/><line x1="1325.6" y1="948" x2="1325.6" y2="936.5" stroke="#2a2a2a" stroke-width="2.6"/><line x1="1354.3" y1="948" x2="1354.3" y2="941.6" stroke="#2a2a2a" stroke-width="2.6"/><line x1="1383.0" y1="948" x2="1383.0" y2="941.6" stroke="#2a2a2a" stroke-width="2.6"/><line x1="1411.6" y1="948" x2="1411.6" y2="941.6" stroke="#2a2a2a" stroke-width="2.6"/><line x1="1440.3" y1="948" x2="1440.3" y2="941.6" stroke="#2a2a2a" stroke-width="2.6"/><line x1="1469.0" y1="948" x2="1469.0" y2="936.5" stroke="#2a2a2a" stroke-width="2.6"/><line x1="1497.7" y1="948" x2="1497.7" y2="941.6" stroke="#2a2a2a" stroke-width="2.6"/><line x1="1526.4" y1="948" x2="1526.4" y2="941.6" stroke="#2a2a2a" stroke-width="2.6"/><line x1="1555.0" y1="948" x2="1555.0" y2="941.6" stroke="#2a2a2a" stroke-width="2.6"/><line x1="1583.7" y1="948" x2="1583.7" y2="941.6" stroke="#2a2a2a" stroke-width="2.6"/><line x1="1612.4" y1="948" x2="1612.4" y2="936.5" stroke="#2a2a2a" stroke-width="2.6"/><line x1="1641.1" y1="948" x2="1641.1" y2="941.6" stroke="#2a2a2a" stroke-width="2.6"/><line x1="1669.8" y1="948" x2="1669.8" y2="941.6" stroke="#2a2a2a" stroke-width="2.6"/><line x1="1698.4" y1="948" x2="1698.4" y2="941.6" stroke="#2a2a2a" stroke-width="2.6"/><line x1="1727.1" y1="948" x2="1727.1" y2="941.6" stroke="#2a2a2a" stroke-width="2.6"/><line x1="1755.8" y1="948" x2="1755.8" y2="936.5" stroke="#2a2a2a" stroke-width="2.6"/><text x="1326" y="978.5" font-size="27" fill="#1a1a1a" text-anchor="middle">450</text><text x="1468.7" y="978.5" font-size="27" fill="#1a1a1a" text-anchor="middle">475</text><text x="1612" y="978.5" font-size="27" fill="#1a1a1a" text-anchor="middle">500</text><text x="1754.5" y="978.5" font-size="27" fill="#1a1a1a" text-anchor="middle">525</text><text x="1532.2" y="1013.5" font-size="27.8" fill="#1a1a1a" text-anchor="middle">Wavelength (nm)</tspan></text><text transform="translate(1274,727) rotate(-90)" font-size="27.5" fill="#1a1a1a" text-anchor="middle">Intensity (a.u.)</text><text x="1343.5" y="508.7" font-size="24.5" fill="#1a1a1a">@ 8 &#956;J/cm<tspan font-size="15.5" dy="-10">2</tspan></text><text x="1368" y="573.1" font-size="25.5" fill="#e5097f"><tspan font-style="italic">h</tspan><tspan dx="3.5">(100 nm)</tspan></text><text x="1359" y="685.8" font-size="25.5" fill="#3a4aa8"><tspan font-style="italic">h</tspan><tspan dx="3.5">(20 nm)</tspan></text><text x="1362" y="796.7" font-size="25.5" fill="#e8101a"><tspan font-style="italic">h</tspan><tspan dx="3.5">(10 nm)</tspan></text><text x="1364.5" y="910.4" font-size="25.5" fill="#111"><tspan font-style="italic">h</tspan><tspan dx="3.5">(5 nm)</tspan></text><defs><linearGradient id="nwF" x1="0" y1="0" x2="0" y2="1"><stop offset="0" stop-color="#fcc83a"/><stop offset="0.5" stop-color="#f5ad14"/><stop offset="1" stop-color="#e08a0c"/></linearGradient></defs><text x="1908" y="505.2" font-size="19" font-weight="bold" text-anchor="middle" fill="#3a2a8a"><tspan font-style="italic">h</tspan> = 100 nm</text><rect x="1865.1" y="510.2" width="78.4" height="17.8" rx="5.3" fill="url(#nwF)"/><ellipse cx="1943.5" cy="519.1" rx="3.6" ry="8.9" fill="#fbc550"/><rect x="1830.5" y="528" width="153.5" height="37.5" fill="#94c0e8"/><rect x="1830.5" y="565.5" width="153.5" height="29.9" fill="#ffe800"/><text x="1905" y="558" font-size="18.5" fill="#26344f" text-anchor="middle">SiO<tspan font-size="12.5" dy="4">2</tspan></text><text x="1905.5" y="589" font-size="18.5" fill="#4a4818" text-anchor="middle">Au Film</text><text x="1905.3" y="642.5" font-size="19" font-weight="bold" text-anchor="middle" fill="#5aaa2a"><tspan font-style="italic">h</tspan> = 20 nm</text><rect x="1860.8" y="652.2" width="79.8" height="17.6" rx="5.3" fill="url(#nwF)"/><ellipse cx="1940.6" cy="661.0" rx="3.5" ry="8.8" fill="#fbc550"/><rect x="1828.2" y="669.8" width="154.6" height="17.2" fill="#94c0e8"/><rect x="1828.2" y="687" width="154.6" height="28.6" fill="#ffe800"/><text x="1915" y="709.8" font-size="18.5" fill="#4a4818" text-anchor="middle">Au Film</text><text x="1911.2" y="766" font-size="19" font-weight="bold" text-anchor="middle" fill="#e8202a"><tspan font-style="italic">h</tspan> = 10 nm</text><rect x="1868.3" y="774.2" width="78.2" height="17.6" rx="5.3" fill="url(#nwF)"/><ellipse cx="1946.5" cy="783.0" rx="3.5" ry="8.8" fill="#fbc550"/><rect x="1828.2" y="791.8" width="155" height="7.5" fill="#94c0e8"/><rect x="1828.2" y="799.3" width="155" height="30.1" fill="#ffe800"/><text x="1917" y="820.8" font-size="18.5" fill="#4a4818" text-anchor="middle">Au Film</text><text x="1910.5" y="880.6" font-size="19" font-weight="bold" text-anchor="middle" fill="#2a2a2a"><tspan font-style="italic">h</tspan> = 5 nm</text><rect x="1862.4" y="888.7" width="82.2" height="18.8" rx="5.6" fill="url(#nwF)"/><ellipse cx="1944.6" cy="898.1" rx="3.8" ry="9.4" fill="#fbc550"/><rect x="1825.5" y="907.5" width="161" height="4.3" fill="#94c0e8"/><rect x="1825" y="911.8" width="161.5" height="31.7" fill="#ffe800"/><text x="1916" y="936" font-size="18.5" fill="#4a4818" text-anchor="middle">Au Film</text>
<text x="2.3" y="32.1" font-size="43.5" fill="#0a0a0a" text-anchor="start" font-weight="bold" font-style="normal" >A</text><text x="2.6" y="294.1" font-size="43.5" fill="#0a0a0a" text-anchor="start" font-weight="bold" font-style="normal" >B</text><text x="549" y="32.8" font-size="43.5" fill="#0a0a0a" text-anchor="start" font-weight="bold" font-style="normal" >C</text><text x="550.8" y="460" font-size="43.5" fill="#0a0a0a" text-anchor="start" font-weight="bold" font-style="normal" >D</text><text x="1237.5" y="32.2" font-size="43.5" fill="#0a0a0a" text-anchor="start" font-weight="bold" font-style="normal" >E</text><text x="1244.4" y="460" font-size="43.5" fill="#0a0a0a" text-anchor="start" font-weight="bold" font-style="normal" >F</text>
</svg></body></html>
